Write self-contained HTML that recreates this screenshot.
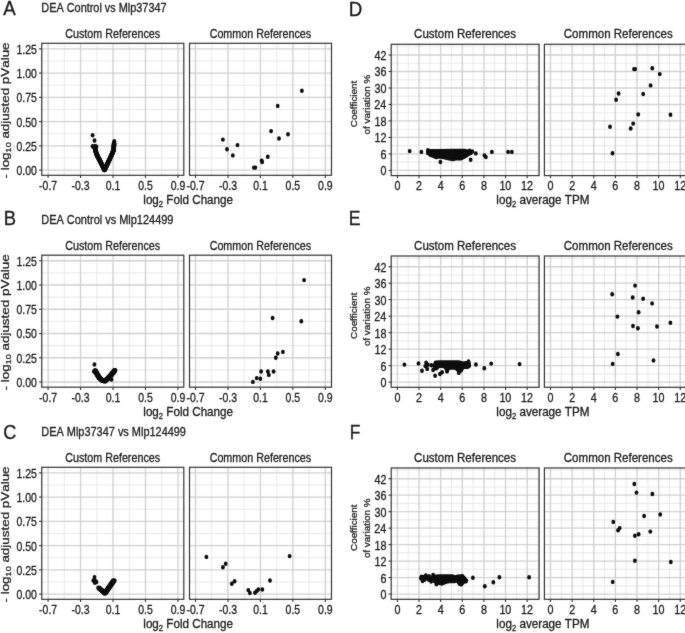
<!DOCTYPE html>
<html><head><meta charset="utf-8"><style>
html,body{margin:0;padding:0;background:#fff;overflow:hidden}
svg text{font-family:"Liberation Sans", sans-serif;font-kerning:none;font-variant-ligatures:none;stroke:#1a1a1a;stroke-width:0.3px;paint-order:stroke}
</style></head><body>
<svg width="685" height="633" viewBox="0 0 685 633" style="display:block;font-kerning:none">
<defs><filter id="bl" x="0" y="0" width="685" height="633" filterUnits="userSpaceOnUse" color-interpolation-filters="sRGB"><feConvolveMatrix order="3" kernelMatrix="1 2 1 2 28 2 1 2 1" divisor="40" edgeMode="duplicate" preserveAlpha="false"/></filter></defs>
<g filter="url(#bl)">
<rect width="685" height="633" fill="#fff"/>
<g>
<line x1="64.33" y1="43.3" x2="64.33" y2="175.3" stroke="#ebebeb" stroke-width="1.1"/>
<line x1="96.79" y1="43.3" x2="96.79" y2="175.3" stroke="#ebebeb" stroke-width="1.1"/>
<line x1="129.25" y1="43.3" x2="129.25" y2="175.3" stroke="#ebebeb" stroke-width="1.1"/>
<line x1="161.71" y1="43.3" x2="161.71" y2="175.3" stroke="#ebebeb" stroke-width="1.1"/>
<line x1="41.75" y1="157.97" x2="183.8" y2="157.97" stroke="#ebebeb" stroke-width="1.1"/>
<line x1="41.75" y1="133.72" x2="183.8" y2="133.72" stroke="#ebebeb" stroke-width="1.1"/>
<line x1="41.75" y1="109.47" x2="183.8" y2="109.47" stroke="#ebebeb" stroke-width="1.1"/>
<line x1="41.75" y1="85.22" x2="183.8" y2="85.22" stroke="#ebebeb" stroke-width="1.1"/>
<line x1="41.75" y1="60.97" x2="183.8" y2="60.97" stroke="#ebebeb" stroke-width="1.1"/>
<line x1="48.1" y1="43.3" x2="48.1" y2="175.3" stroke="#d2d2d2" stroke-width="1.35"/>
<line x1="80.56" y1="43.3" x2="80.56" y2="175.3" stroke="#d2d2d2" stroke-width="1.35"/>
<line x1="113.02" y1="43.3" x2="113.02" y2="175.3" stroke="#d2d2d2" stroke-width="1.35"/>
<line x1="145.48" y1="43.3" x2="145.48" y2="175.3" stroke="#d2d2d2" stroke-width="1.35"/>
<line x1="177.94" y1="43.3" x2="177.94" y2="175.3" stroke="#d2d2d2" stroke-width="1.35"/>
<line x1="41.75" y1="170.1" x2="183.8" y2="170.1" stroke="#d2d2d2" stroke-width="1.35"/>
<line x1="41.75" y1="145.85" x2="183.8" y2="145.85" stroke="#d2d2d2" stroke-width="1.35"/>
<line x1="41.75" y1="121.6" x2="183.8" y2="121.6" stroke="#d2d2d2" stroke-width="1.35"/>
<line x1="41.75" y1="97.35" x2="183.8" y2="97.35" stroke="#d2d2d2" stroke-width="1.35"/>
<line x1="41.75" y1="73.1" x2="183.8" y2="73.1" stroke="#d2d2d2" stroke-width="1.35"/>
<line x1="41.75" y1="48.85" x2="183.8" y2="48.85" stroke="#d2d2d2" stroke-width="1.35"/>
<rect x="41.75" y="43.3" width="142.05" height="132" fill="none" stroke="#333333" stroke-width="1.2"/>
</g>
<line x1="48.1" y1="175.3" x2="48.1" y2="178" stroke="#333333" stroke-width="1.1"/>
<text transform="translate(39.09,189.6) scale(0.8600,1.0000)" fill="#1a1a1a"><tspan font-size="12.2">-0.7</tspan></text>
<line x1="80.56" y1="175.3" x2="80.56" y2="178" stroke="#333333" stroke-width="1.1"/>
<text transform="translate(71.52,189.6) scale(0.8600,1.0000)" fill="#1a1a1a"><tspan font-size="12.2">-0.3</tspan></text>
<line x1="113.02" y1="175.3" x2="113.02" y2="178" stroke="#333333" stroke-width="1.1"/>
<text transform="translate(105.78,189.6) scale(0.8600,1.0000)" fill="#1a1a1a"><tspan font-size="12.2">0.1</tspan></text>
<line x1="145.48" y1="175.3" x2="145.48" y2="178" stroke="#333333" stroke-width="1.1"/>
<text transform="translate(138.2,189.6) scale(0.8600,1.0000)" fill="#1a1a1a"><tspan font-size="12.2">0.5</tspan></text>
<line x1="177.94" y1="175.3" x2="177.94" y2="178" stroke="#333333" stroke-width="1.1"/>
<text transform="translate(170.69,189.6) scale(0.8600,1.0000)" fill="#1a1a1a"><tspan font-size="12.2">0.9</tspan></text>
<text transform="translate(65.19,37.6) scale(0.8670,1.0000)" fill="#1a1a1a"><tspan font-size="12.4">Custom References</tspan></text>
<g>
<line x1="211.73" y1="43.3" x2="211.73" y2="175.3" stroke="#ebebeb" stroke-width="1.1"/>
<line x1="244.19" y1="43.3" x2="244.19" y2="175.3" stroke="#ebebeb" stroke-width="1.1"/>
<line x1="276.65" y1="43.3" x2="276.65" y2="175.3" stroke="#ebebeb" stroke-width="1.1"/>
<line x1="309.11" y1="43.3" x2="309.11" y2="175.3" stroke="#ebebeb" stroke-width="1.1"/>
<line x1="189.5" y1="157.97" x2="331.5" y2="157.97" stroke="#ebebeb" stroke-width="1.1"/>
<line x1="189.5" y1="133.72" x2="331.5" y2="133.72" stroke="#ebebeb" stroke-width="1.1"/>
<line x1="189.5" y1="109.47" x2="331.5" y2="109.47" stroke="#ebebeb" stroke-width="1.1"/>
<line x1="189.5" y1="85.22" x2="331.5" y2="85.22" stroke="#ebebeb" stroke-width="1.1"/>
<line x1="189.5" y1="60.97" x2="331.5" y2="60.97" stroke="#ebebeb" stroke-width="1.1"/>
<line x1="195.5" y1="43.3" x2="195.5" y2="175.3" stroke="#d2d2d2" stroke-width="1.35"/>
<line x1="227.96" y1="43.3" x2="227.96" y2="175.3" stroke="#d2d2d2" stroke-width="1.35"/>
<line x1="260.42" y1="43.3" x2="260.42" y2="175.3" stroke="#d2d2d2" stroke-width="1.35"/>
<line x1="292.88" y1="43.3" x2="292.88" y2="175.3" stroke="#d2d2d2" stroke-width="1.35"/>
<line x1="325.34" y1="43.3" x2="325.34" y2="175.3" stroke="#d2d2d2" stroke-width="1.35"/>
<line x1="189.5" y1="170.1" x2="331.5" y2="170.1" stroke="#d2d2d2" stroke-width="1.35"/>
<line x1="189.5" y1="145.85" x2="331.5" y2="145.85" stroke="#d2d2d2" stroke-width="1.35"/>
<line x1="189.5" y1="121.6" x2="331.5" y2="121.6" stroke="#d2d2d2" stroke-width="1.35"/>
<line x1="189.5" y1="97.35" x2="331.5" y2="97.35" stroke="#d2d2d2" stroke-width="1.35"/>
<line x1="189.5" y1="73.1" x2="331.5" y2="73.1" stroke="#d2d2d2" stroke-width="1.35"/>
<line x1="189.5" y1="48.85" x2="331.5" y2="48.85" stroke="#d2d2d2" stroke-width="1.35"/>
<rect x="189.5" y="43.3" width="142" height="132" fill="none" stroke="#333333" stroke-width="1.2"/>
</g>
<line x1="195.5" y1="175.3" x2="195.5" y2="178" stroke="#333333" stroke-width="1.1"/>
<text transform="translate(186.49,189.6) scale(0.8600,1.0000)" fill="#1a1a1a"><tspan font-size="12.2">-0.7</tspan></text>
<line x1="227.96" y1="175.3" x2="227.96" y2="178" stroke="#333333" stroke-width="1.1"/>
<text transform="translate(218.92,189.6) scale(0.8600,1.0000)" fill="#1a1a1a"><tspan font-size="12.2">-0.3</tspan></text>
<line x1="260.42" y1="175.3" x2="260.42" y2="178" stroke="#333333" stroke-width="1.1"/>
<text transform="translate(253.18,189.6) scale(0.8600,1.0000)" fill="#1a1a1a"><tspan font-size="12.2">0.1</tspan></text>
<line x1="292.88" y1="175.3" x2="292.88" y2="178" stroke="#333333" stroke-width="1.1"/>
<text transform="translate(285.6,189.6) scale(0.8600,1.0000)" fill="#1a1a1a"><tspan font-size="12.2">0.5</tspan></text>
<line x1="325.34" y1="175.3" x2="325.34" y2="178" stroke="#333333" stroke-width="1.1"/>
<text transform="translate(318.09,189.6) scale(0.8600,1.0000)" fill="#1a1a1a"><tspan font-size="12.2">0.9</tspan></text>
<text transform="translate(209.63,37.6) scale(0.8670,1.0000)" fill="#1a1a1a"><tspan font-size="12.4">Common References</tspan></text>
<line x1="39.05" y1="170.1" x2="41.75" y2="170.1" stroke="#333333" stroke-width="1.1"/>
<text transform="translate(16.49,175) scale(0.8600,1.0000)" fill="#1a1a1a"><tspan font-size="12.2">0.00</tspan></text>
<line x1="39.05" y1="145.85" x2="41.75" y2="145.85" stroke="#333333" stroke-width="1.1"/>
<text transform="translate(16.52,150.75) scale(0.8600,1.0000)" fill="#1a1a1a"><tspan font-size="12.2">0.25</tspan></text>
<line x1="39.05" y1="121.6" x2="41.75" y2="121.6" stroke="#333333" stroke-width="1.1"/>
<text transform="translate(16.49,126.5) scale(0.8600,1.0000)" fill="#1a1a1a"><tspan font-size="12.2">0.50</tspan></text>
<line x1="39.05" y1="97.35" x2="41.75" y2="97.35" stroke="#333333" stroke-width="1.1"/>
<text transform="translate(16.52,102.25) scale(0.8600,1.0000)" fill="#1a1a1a"><tspan font-size="12.2">0.75</tspan></text>
<line x1="39.05" y1="73.1" x2="41.75" y2="73.1" stroke="#333333" stroke-width="1.1"/>
<text transform="translate(16.49,78) scale(0.8600,1.0000)" fill="#1a1a1a"><tspan font-size="12.2">1.00</tspan></text>
<line x1="39.05" y1="48.85" x2="41.75" y2="48.85" stroke="#333333" stroke-width="1.1"/>
<text transform="translate(16.52,53.75) scale(0.8600,1.0000)" fill="#1a1a1a"><tspan font-size="12.2">1.25</tspan></text>
<text transform="translate(41.31,12.4) scale(0.8793,1.0000)" fill="#1a1a1a"><tspan font-size="12.4">DEA Control vs Mlp37347</tspan></text>
<text transform="translate(3.36,15.3) scale(0.9530,1.0000)" fill="#1a1a1a"><tspan font-size="19.62">A</tspan></text>
<text transform="translate(143.31,204.2) scale(0.9398,1.0000)" fill="#1a1a1a"><tspan font-size="12.4">log</tspan><tspan font-size="8.2" dy="2.8">2</tspan><tspan font-size="12.4" dy="-2.8"> Fold Change</tspan></text>
<text transform="translate(9.3,178.5) rotate(-90) scale(1.0822,0.8800)" fill="#1a1a1a"><tspan font-size="12.4">- log</tspan><tspan font-size="8.4" dy="1.8">10</tspan><tspan font-size="12.4" dy="-1.8"> adjusted pValue</tspan></text>
<g>
<line x1="64.33" y1="255.2" x2="64.33" y2="387.2" stroke="#ebebeb" stroke-width="1.1"/>
<line x1="96.79" y1="255.2" x2="96.79" y2="387.2" stroke="#ebebeb" stroke-width="1.1"/>
<line x1="129.25" y1="255.2" x2="129.25" y2="387.2" stroke="#ebebeb" stroke-width="1.1"/>
<line x1="161.71" y1="255.2" x2="161.71" y2="387.2" stroke="#ebebeb" stroke-width="1.1"/>
<line x1="41.75" y1="369.88" x2="183.8" y2="369.88" stroke="#ebebeb" stroke-width="1.1"/>
<line x1="41.75" y1="345.62" x2="183.8" y2="345.62" stroke="#ebebeb" stroke-width="1.1"/>
<line x1="41.75" y1="321.38" x2="183.8" y2="321.38" stroke="#ebebeb" stroke-width="1.1"/>
<line x1="41.75" y1="297.12" x2="183.8" y2="297.12" stroke="#ebebeb" stroke-width="1.1"/>
<line x1="41.75" y1="272.88" x2="183.8" y2="272.88" stroke="#ebebeb" stroke-width="1.1"/>
<line x1="48.1" y1="255.2" x2="48.1" y2="387.2" stroke="#d2d2d2" stroke-width="1.35"/>
<line x1="80.56" y1="255.2" x2="80.56" y2="387.2" stroke="#d2d2d2" stroke-width="1.35"/>
<line x1="113.02" y1="255.2" x2="113.02" y2="387.2" stroke="#d2d2d2" stroke-width="1.35"/>
<line x1="145.48" y1="255.2" x2="145.48" y2="387.2" stroke="#d2d2d2" stroke-width="1.35"/>
<line x1="177.94" y1="255.2" x2="177.94" y2="387.2" stroke="#d2d2d2" stroke-width="1.35"/>
<line x1="41.75" y1="382" x2="183.8" y2="382" stroke="#d2d2d2" stroke-width="1.35"/>
<line x1="41.75" y1="357.75" x2="183.8" y2="357.75" stroke="#d2d2d2" stroke-width="1.35"/>
<line x1="41.75" y1="333.5" x2="183.8" y2="333.5" stroke="#d2d2d2" stroke-width="1.35"/>
<line x1="41.75" y1="309.25" x2="183.8" y2="309.25" stroke="#d2d2d2" stroke-width="1.35"/>
<line x1="41.75" y1="285" x2="183.8" y2="285" stroke="#d2d2d2" stroke-width="1.35"/>
<line x1="41.75" y1="260.75" x2="183.8" y2="260.75" stroke="#d2d2d2" stroke-width="1.35"/>
<rect x="41.75" y="255.2" width="142.05" height="132" fill="none" stroke="#333333" stroke-width="1.2"/>
</g>
<line x1="48.1" y1="387.2" x2="48.1" y2="389.9" stroke="#333333" stroke-width="1.1"/>
<text transform="translate(39.09,401.5) scale(0.8600,1.0000)" fill="#1a1a1a"><tspan font-size="12.2">-0.7</tspan></text>
<line x1="80.56" y1="387.2" x2="80.56" y2="389.9" stroke="#333333" stroke-width="1.1"/>
<text transform="translate(71.52,401.5) scale(0.8600,1.0000)" fill="#1a1a1a"><tspan font-size="12.2">-0.3</tspan></text>
<line x1="113.02" y1="387.2" x2="113.02" y2="389.9" stroke="#333333" stroke-width="1.1"/>
<text transform="translate(105.78,401.5) scale(0.8600,1.0000)" fill="#1a1a1a"><tspan font-size="12.2">0.1</tspan></text>
<line x1="145.48" y1="387.2" x2="145.48" y2="389.9" stroke="#333333" stroke-width="1.1"/>
<text transform="translate(138.2,401.5) scale(0.8600,1.0000)" fill="#1a1a1a"><tspan font-size="12.2">0.5</tspan></text>
<line x1="177.94" y1="387.2" x2="177.94" y2="389.9" stroke="#333333" stroke-width="1.1"/>
<text transform="translate(170.69,401.5) scale(0.8600,1.0000)" fill="#1a1a1a"><tspan font-size="12.2">0.9</tspan></text>
<text transform="translate(65.19,249.5) scale(0.8670,1.0000)" fill="#1a1a1a"><tspan font-size="12.4">Custom References</tspan></text>
<g>
<line x1="211.73" y1="255.2" x2="211.73" y2="387.2" stroke="#ebebeb" stroke-width="1.1"/>
<line x1="244.19" y1="255.2" x2="244.19" y2="387.2" stroke="#ebebeb" stroke-width="1.1"/>
<line x1="276.65" y1="255.2" x2="276.65" y2="387.2" stroke="#ebebeb" stroke-width="1.1"/>
<line x1="309.11" y1="255.2" x2="309.11" y2="387.2" stroke="#ebebeb" stroke-width="1.1"/>
<line x1="189.5" y1="369.88" x2="331.5" y2="369.88" stroke="#ebebeb" stroke-width="1.1"/>
<line x1="189.5" y1="345.62" x2="331.5" y2="345.62" stroke="#ebebeb" stroke-width="1.1"/>
<line x1="189.5" y1="321.38" x2="331.5" y2="321.38" stroke="#ebebeb" stroke-width="1.1"/>
<line x1="189.5" y1="297.12" x2="331.5" y2="297.12" stroke="#ebebeb" stroke-width="1.1"/>
<line x1="189.5" y1="272.88" x2="331.5" y2="272.88" stroke="#ebebeb" stroke-width="1.1"/>
<line x1="195.5" y1="255.2" x2="195.5" y2="387.2" stroke="#d2d2d2" stroke-width="1.35"/>
<line x1="227.96" y1="255.2" x2="227.96" y2="387.2" stroke="#d2d2d2" stroke-width="1.35"/>
<line x1="260.42" y1="255.2" x2="260.42" y2="387.2" stroke="#d2d2d2" stroke-width="1.35"/>
<line x1="292.88" y1="255.2" x2="292.88" y2="387.2" stroke="#d2d2d2" stroke-width="1.35"/>
<line x1="325.34" y1="255.2" x2="325.34" y2="387.2" stroke="#d2d2d2" stroke-width="1.35"/>
<line x1="189.5" y1="382" x2="331.5" y2="382" stroke="#d2d2d2" stroke-width="1.35"/>
<line x1="189.5" y1="357.75" x2="331.5" y2="357.75" stroke="#d2d2d2" stroke-width="1.35"/>
<line x1="189.5" y1="333.5" x2="331.5" y2="333.5" stroke="#d2d2d2" stroke-width="1.35"/>
<line x1="189.5" y1="309.25" x2="331.5" y2="309.25" stroke="#d2d2d2" stroke-width="1.35"/>
<line x1="189.5" y1="285" x2="331.5" y2="285" stroke="#d2d2d2" stroke-width="1.35"/>
<line x1="189.5" y1="260.75" x2="331.5" y2="260.75" stroke="#d2d2d2" stroke-width="1.35"/>
<rect x="189.5" y="255.2" width="142" height="132" fill="none" stroke="#333333" stroke-width="1.2"/>
</g>
<line x1="195.5" y1="387.2" x2="195.5" y2="389.9" stroke="#333333" stroke-width="1.1"/>
<text transform="translate(186.49,401.5) scale(0.8600,1.0000)" fill="#1a1a1a"><tspan font-size="12.2">-0.7</tspan></text>
<line x1="227.96" y1="387.2" x2="227.96" y2="389.9" stroke="#333333" stroke-width="1.1"/>
<text transform="translate(218.92,401.5) scale(0.8600,1.0000)" fill="#1a1a1a"><tspan font-size="12.2">-0.3</tspan></text>
<line x1="260.42" y1="387.2" x2="260.42" y2="389.9" stroke="#333333" stroke-width="1.1"/>
<text transform="translate(253.18,401.5) scale(0.8600,1.0000)" fill="#1a1a1a"><tspan font-size="12.2">0.1</tspan></text>
<line x1="292.88" y1="387.2" x2="292.88" y2="389.9" stroke="#333333" stroke-width="1.1"/>
<text transform="translate(285.6,401.5) scale(0.8600,1.0000)" fill="#1a1a1a"><tspan font-size="12.2">0.5</tspan></text>
<line x1="325.34" y1="387.2" x2="325.34" y2="389.9" stroke="#333333" stroke-width="1.1"/>
<text transform="translate(318.09,401.5) scale(0.8600,1.0000)" fill="#1a1a1a"><tspan font-size="12.2">0.9</tspan></text>
<text transform="translate(209.63,249.5) scale(0.8670,1.0000)" fill="#1a1a1a"><tspan font-size="12.4">Common References</tspan></text>
<line x1="39.05" y1="382" x2="41.75" y2="382" stroke="#333333" stroke-width="1.1"/>
<text transform="translate(16.49,386.9) scale(0.8600,1.0000)" fill="#1a1a1a"><tspan font-size="12.2">0.00</tspan></text>
<line x1="39.05" y1="357.75" x2="41.75" y2="357.75" stroke="#333333" stroke-width="1.1"/>
<text transform="translate(16.52,362.65) scale(0.8600,1.0000)" fill="#1a1a1a"><tspan font-size="12.2">0.25</tspan></text>
<line x1="39.05" y1="333.5" x2="41.75" y2="333.5" stroke="#333333" stroke-width="1.1"/>
<text transform="translate(16.49,338.4) scale(0.8600,1.0000)" fill="#1a1a1a"><tspan font-size="12.2">0.50</tspan></text>
<line x1="39.05" y1="309.25" x2="41.75" y2="309.25" stroke="#333333" stroke-width="1.1"/>
<text transform="translate(16.52,314.15) scale(0.8600,1.0000)" fill="#1a1a1a"><tspan font-size="12.2">0.75</tspan></text>
<line x1="39.05" y1="285" x2="41.75" y2="285" stroke="#333333" stroke-width="1.1"/>
<text transform="translate(16.49,289.9) scale(0.8600,1.0000)" fill="#1a1a1a"><tspan font-size="12.2">1.00</tspan></text>
<line x1="39.05" y1="260.75" x2="41.75" y2="260.75" stroke="#333333" stroke-width="1.1"/>
<text transform="translate(16.52,265.65) scale(0.8600,1.0000)" fill="#1a1a1a"><tspan font-size="12.2">1.25</tspan></text>
<text transform="translate(41.3,224.3) scale(0.8847,1.0000)" fill="#1a1a1a"><tspan font-size="12.4">DEA Control vs Mlp124499</tspan></text>
<text transform="translate(3.79,224.7) scale(0.9315,1.0000)" fill="#1a1a1a"><tspan font-size="19.77">B</tspan></text>
<text transform="translate(143.31,416.1) scale(0.9398,1.0000)" fill="#1a1a1a"><tspan font-size="12.4">log</tspan><tspan font-size="8.2" dy="2.8">2</tspan><tspan font-size="12.4" dy="-2.8"> Fold Change</tspan></text>
<text transform="translate(9.3,390.4) rotate(-90) scale(1.0822,0.8800)" fill="#1a1a1a"><tspan font-size="12.4">- log</tspan><tspan font-size="8.4" dy="1.8">10</tspan><tspan font-size="12.4" dy="-1.8"> adjusted pValue</tspan></text>
<g>
<line x1="64.33" y1="467.3" x2="64.33" y2="599.3" stroke="#ebebeb" stroke-width="1.1"/>
<line x1="96.79" y1="467.3" x2="96.79" y2="599.3" stroke="#ebebeb" stroke-width="1.1"/>
<line x1="129.25" y1="467.3" x2="129.25" y2="599.3" stroke="#ebebeb" stroke-width="1.1"/>
<line x1="161.71" y1="467.3" x2="161.71" y2="599.3" stroke="#ebebeb" stroke-width="1.1"/>
<line x1="41.75" y1="581.98" x2="183.8" y2="581.98" stroke="#ebebeb" stroke-width="1.1"/>
<line x1="41.75" y1="557.73" x2="183.8" y2="557.73" stroke="#ebebeb" stroke-width="1.1"/>
<line x1="41.75" y1="533.48" x2="183.8" y2="533.48" stroke="#ebebeb" stroke-width="1.1"/>
<line x1="41.75" y1="509.23" x2="183.8" y2="509.23" stroke="#ebebeb" stroke-width="1.1"/>
<line x1="41.75" y1="484.98" x2="183.8" y2="484.98" stroke="#ebebeb" stroke-width="1.1"/>
<line x1="48.1" y1="467.3" x2="48.1" y2="599.3" stroke="#d2d2d2" stroke-width="1.35"/>
<line x1="80.56" y1="467.3" x2="80.56" y2="599.3" stroke="#d2d2d2" stroke-width="1.35"/>
<line x1="113.02" y1="467.3" x2="113.02" y2="599.3" stroke="#d2d2d2" stroke-width="1.35"/>
<line x1="145.48" y1="467.3" x2="145.48" y2="599.3" stroke="#d2d2d2" stroke-width="1.35"/>
<line x1="177.94" y1="467.3" x2="177.94" y2="599.3" stroke="#d2d2d2" stroke-width="1.35"/>
<line x1="41.75" y1="594.1" x2="183.8" y2="594.1" stroke="#d2d2d2" stroke-width="1.35"/>
<line x1="41.75" y1="569.85" x2="183.8" y2="569.85" stroke="#d2d2d2" stroke-width="1.35"/>
<line x1="41.75" y1="545.6" x2="183.8" y2="545.6" stroke="#d2d2d2" stroke-width="1.35"/>
<line x1="41.75" y1="521.35" x2="183.8" y2="521.35" stroke="#d2d2d2" stroke-width="1.35"/>
<line x1="41.75" y1="497.1" x2="183.8" y2="497.1" stroke="#d2d2d2" stroke-width="1.35"/>
<line x1="41.75" y1="472.85" x2="183.8" y2="472.85" stroke="#d2d2d2" stroke-width="1.35"/>
<rect x="41.75" y="467.3" width="142.05" height="132" fill="none" stroke="#333333" stroke-width="1.2"/>
</g>
<line x1="48.1" y1="599.3" x2="48.1" y2="602" stroke="#333333" stroke-width="1.1"/>
<text transform="translate(39.09,613.6) scale(0.8600,1.0000)" fill="#1a1a1a"><tspan font-size="12.2">-0.7</tspan></text>
<line x1="80.56" y1="599.3" x2="80.56" y2="602" stroke="#333333" stroke-width="1.1"/>
<text transform="translate(71.52,613.6) scale(0.8600,1.0000)" fill="#1a1a1a"><tspan font-size="12.2">-0.3</tspan></text>
<line x1="113.02" y1="599.3" x2="113.02" y2="602" stroke="#333333" stroke-width="1.1"/>
<text transform="translate(105.78,613.6) scale(0.8600,1.0000)" fill="#1a1a1a"><tspan font-size="12.2">0.1</tspan></text>
<line x1="145.48" y1="599.3" x2="145.48" y2="602" stroke="#333333" stroke-width="1.1"/>
<text transform="translate(138.2,613.6) scale(0.8600,1.0000)" fill="#1a1a1a"><tspan font-size="12.2">0.5</tspan></text>
<line x1="177.94" y1="599.3" x2="177.94" y2="602" stroke="#333333" stroke-width="1.1"/>
<text transform="translate(170.69,613.6) scale(0.8600,1.0000)" fill="#1a1a1a"><tspan font-size="12.2">0.9</tspan></text>
<text transform="translate(65.19,461.6) scale(0.8670,1.0000)" fill="#1a1a1a"><tspan font-size="12.4">Custom References</tspan></text>
<g>
<line x1="211.73" y1="467.3" x2="211.73" y2="599.3" stroke="#ebebeb" stroke-width="1.1"/>
<line x1="244.19" y1="467.3" x2="244.19" y2="599.3" stroke="#ebebeb" stroke-width="1.1"/>
<line x1="276.65" y1="467.3" x2="276.65" y2="599.3" stroke="#ebebeb" stroke-width="1.1"/>
<line x1="309.11" y1="467.3" x2="309.11" y2="599.3" stroke="#ebebeb" stroke-width="1.1"/>
<line x1="189.5" y1="581.98" x2="331.5" y2="581.98" stroke="#ebebeb" stroke-width="1.1"/>
<line x1="189.5" y1="557.73" x2="331.5" y2="557.73" stroke="#ebebeb" stroke-width="1.1"/>
<line x1="189.5" y1="533.48" x2="331.5" y2="533.48" stroke="#ebebeb" stroke-width="1.1"/>
<line x1="189.5" y1="509.23" x2="331.5" y2="509.23" stroke="#ebebeb" stroke-width="1.1"/>
<line x1="189.5" y1="484.98" x2="331.5" y2="484.98" stroke="#ebebeb" stroke-width="1.1"/>
<line x1="195.5" y1="467.3" x2="195.5" y2="599.3" stroke="#d2d2d2" stroke-width="1.35"/>
<line x1="227.96" y1="467.3" x2="227.96" y2="599.3" stroke="#d2d2d2" stroke-width="1.35"/>
<line x1="260.42" y1="467.3" x2="260.42" y2="599.3" stroke="#d2d2d2" stroke-width="1.35"/>
<line x1="292.88" y1="467.3" x2="292.88" y2="599.3" stroke="#d2d2d2" stroke-width="1.35"/>
<line x1="325.34" y1="467.3" x2="325.34" y2="599.3" stroke="#d2d2d2" stroke-width="1.35"/>
<line x1="189.5" y1="594.1" x2="331.5" y2="594.1" stroke="#d2d2d2" stroke-width="1.35"/>
<line x1="189.5" y1="569.85" x2="331.5" y2="569.85" stroke="#d2d2d2" stroke-width="1.35"/>
<line x1="189.5" y1="545.6" x2="331.5" y2="545.6" stroke="#d2d2d2" stroke-width="1.35"/>
<line x1="189.5" y1="521.35" x2="331.5" y2="521.35" stroke="#d2d2d2" stroke-width="1.35"/>
<line x1="189.5" y1="497.1" x2="331.5" y2="497.1" stroke="#d2d2d2" stroke-width="1.35"/>
<line x1="189.5" y1="472.85" x2="331.5" y2="472.85" stroke="#d2d2d2" stroke-width="1.35"/>
<rect x="189.5" y="467.3" width="142" height="132" fill="none" stroke="#333333" stroke-width="1.2"/>
</g>
<line x1="195.5" y1="599.3" x2="195.5" y2="602" stroke="#333333" stroke-width="1.1"/>
<text transform="translate(186.49,613.6) scale(0.8600,1.0000)" fill="#1a1a1a"><tspan font-size="12.2">-0.7</tspan></text>
<line x1="227.96" y1="599.3" x2="227.96" y2="602" stroke="#333333" stroke-width="1.1"/>
<text transform="translate(218.92,613.6) scale(0.8600,1.0000)" fill="#1a1a1a"><tspan font-size="12.2">-0.3</tspan></text>
<line x1="260.42" y1="599.3" x2="260.42" y2="602" stroke="#333333" stroke-width="1.1"/>
<text transform="translate(253.18,613.6) scale(0.8600,1.0000)" fill="#1a1a1a"><tspan font-size="12.2">0.1</tspan></text>
<line x1="292.88" y1="599.3" x2="292.88" y2="602" stroke="#333333" stroke-width="1.1"/>
<text transform="translate(285.6,613.6) scale(0.8600,1.0000)" fill="#1a1a1a"><tspan font-size="12.2">0.5</tspan></text>
<line x1="325.34" y1="599.3" x2="325.34" y2="602" stroke="#333333" stroke-width="1.1"/>
<text transform="translate(318.09,613.6) scale(0.8600,1.0000)" fill="#1a1a1a"><tspan font-size="12.2">0.9</tspan></text>
<text transform="translate(209.63,461.6) scale(0.8670,1.0000)" fill="#1a1a1a"><tspan font-size="12.4">Common References</tspan></text>
<line x1="39.05" y1="594.1" x2="41.75" y2="594.1" stroke="#333333" stroke-width="1.1"/>
<text transform="translate(16.49,599) scale(0.8600,1.0000)" fill="#1a1a1a"><tspan font-size="12.2">0.00</tspan></text>
<line x1="39.05" y1="569.85" x2="41.75" y2="569.85" stroke="#333333" stroke-width="1.1"/>
<text transform="translate(16.52,574.75) scale(0.8600,1.0000)" fill="#1a1a1a"><tspan font-size="12.2">0.25</tspan></text>
<line x1="39.05" y1="545.6" x2="41.75" y2="545.6" stroke="#333333" stroke-width="1.1"/>
<text transform="translate(16.49,550.5) scale(0.8600,1.0000)" fill="#1a1a1a"><tspan font-size="12.2">0.50</tspan></text>
<line x1="39.05" y1="521.35" x2="41.75" y2="521.35" stroke="#333333" stroke-width="1.1"/>
<text transform="translate(16.52,526.25) scale(0.8600,1.0000)" fill="#1a1a1a"><tspan font-size="12.2">0.75</tspan></text>
<line x1="39.05" y1="497.1" x2="41.75" y2="497.1" stroke="#333333" stroke-width="1.1"/>
<text transform="translate(16.49,502) scale(0.8600,1.0000)" fill="#1a1a1a"><tspan font-size="12.2">1.00</tspan></text>
<line x1="39.05" y1="472.85" x2="41.75" y2="472.85" stroke="#333333" stroke-width="1.1"/>
<text transform="translate(16.52,477.75) scale(0.8600,1.0000)" fill="#1a1a1a"><tspan font-size="12.2">1.25</tspan></text>
<text transform="translate(41.3,436.4) scale(0.8821,1.0000)" fill="#1a1a1a"><tspan font-size="12.4">DEA Mlp37347 vs Mlp124499</tspan></text>
<text transform="translate(3.28,438.7) scale(0.8992,1.0000)" fill="#1a1a1a"><tspan font-size="20.19">C</tspan></text>
<text transform="translate(143.31,628.2) scale(0.9398,1.0000)" fill="#1a1a1a"><tspan font-size="12.4">log</tspan><tspan font-size="8.2" dy="2.8">2</tspan><tspan font-size="12.4" dy="-2.8"> Fold Change</tspan></text>
<text transform="translate(9.3,602.5) rotate(-90) scale(1.0822,0.8800)" fill="#1a1a1a"><tspan font-size="12.4">- log</tspan><tspan font-size="8.4" dy="1.8">10</tspan><tspan font-size="12.4" dy="-1.8"> adjusted pValue</tspan></text>
<g>
<line x1="408.21" y1="44.3" x2="408.21" y2="175.6" stroke="#ebebeb" stroke-width="1.1"/>
<line x1="429.84" y1="44.3" x2="429.84" y2="175.6" stroke="#ebebeb" stroke-width="1.1"/>
<line x1="451.47" y1="44.3" x2="451.47" y2="175.6" stroke="#ebebeb" stroke-width="1.1"/>
<line x1="473.1" y1="44.3" x2="473.1" y2="175.6" stroke="#ebebeb" stroke-width="1.1"/>
<line x1="494.73" y1="44.3" x2="494.73" y2="175.6" stroke="#ebebeb" stroke-width="1.1"/>
<line x1="516.37" y1="44.3" x2="516.37" y2="175.6" stroke="#ebebeb" stroke-width="1.1"/>
<line x1="538" y1="44.3" x2="538" y2="175.6" stroke="#ebebeb" stroke-width="1.1"/>
<line x1="391.2" y1="162.16" x2="539.1" y2="162.16" stroke="#ebebeb" stroke-width="1.1"/>
<line x1="391.2" y1="145.67" x2="539.1" y2="145.67" stroke="#ebebeb" stroke-width="1.1"/>
<line x1="391.2" y1="129.19" x2="539.1" y2="129.19" stroke="#ebebeb" stroke-width="1.1"/>
<line x1="391.2" y1="112.7" x2="539.1" y2="112.7" stroke="#ebebeb" stroke-width="1.1"/>
<line x1="391.2" y1="96.21" x2="539.1" y2="96.21" stroke="#ebebeb" stroke-width="1.1"/>
<line x1="391.2" y1="79.73" x2="539.1" y2="79.73" stroke="#ebebeb" stroke-width="1.1"/>
<line x1="391.2" y1="63.24" x2="539.1" y2="63.24" stroke="#ebebeb" stroke-width="1.1"/>
<line x1="391.2" y1="46.76" x2="539.1" y2="46.76" stroke="#ebebeb" stroke-width="1.1"/>
<line x1="397.4" y1="44.3" x2="397.4" y2="175.6" stroke="#d2d2d2" stroke-width="1.35"/>
<line x1="419.03" y1="44.3" x2="419.03" y2="175.6" stroke="#d2d2d2" stroke-width="1.35"/>
<line x1="440.66" y1="44.3" x2="440.66" y2="175.6" stroke="#d2d2d2" stroke-width="1.35"/>
<line x1="462.29" y1="44.3" x2="462.29" y2="175.6" stroke="#d2d2d2" stroke-width="1.35"/>
<line x1="483.92" y1="44.3" x2="483.92" y2="175.6" stroke="#d2d2d2" stroke-width="1.35"/>
<line x1="505.55" y1="44.3" x2="505.55" y2="175.6" stroke="#d2d2d2" stroke-width="1.35"/>
<line x1="527.18" y1="44.3" x2="527.18" y2="175.6" stroke="#d2d2d2" stroke-width="1.35"/>
<line x1="391.2" y1="170.4" x2="539.1" y2="170.4" stroke="#d2d2d2" stroke-width="1.35"/>
<line x1="391.2" y1="153.91" x2="539.1" y2="153.91" stroke="#d2d2d2" stroke-width="1.35"/>
<line x1="391.2" y1="137.43" x2="539.1" y2="137.43" stroke="#d2d2d2" stroke-width="1.35"/>
<line x1="391.2" y1="120.94" x2="539.1" y2="120.94" stroke="#d2d2d2" stroke-width="1.35"/>
<line x1="391.2" y1="104.46" x2="539.1" y2="104.46" stroke="#d2d2d2" stroke-width="1.35"/>
<line x1="391.2" y1="87.97" x2="539.1" y2="87.97" stroke="#d2d2d2" stroke-width="1.35"/>
<line x1="391.2" y1="71.49" x2="539.1" y2="71.49" stroke="#d2d2d2" stroke-width="1.35"/>
<line x1="391.2" y1="55" x2="539.1" y2="55" stroke="#d2d2d2" stroke-width="1.35"/>
<rect x="391.2" y="44.3" width="147.9" height="131.3" fill="none" stroke="#333333" stroke-width="1.2"/>
</g>
<line x1="397.4" y1="175.6" x2="397.4" y2="178.3" stroke="#333333" stroke-width="1.1"/>
<text transform="translate(394.41,189.9) scale(0.8800,1.0000)" fill="#1a1a1a"><tspan font-size="12.2">0</tspan></text>
<line x1="419.03" y1="175.6" x2="419.03" y2="178.3" stroke="#333333" stroke-width="1.1"/>
<text transform="translate(416.04,189.9) scale(0.8800,1.0000)" fill="#1a1a1a"><tspan font-size="12.2">2</tspan></text>
<line x1="440.66" y1="175.6" x2="440.66" y2="178.3" stroke="#333333" stroke-width="1.1"/>
<text transform="translate(437.71,189.9) scale(0.8800,1.0000)" fill="#1a1a1a"><tspan font-size="12.2">4</tspan></text>
<line x1="462.29" y1="175.6" x2="462.29" y2="178.3" stroke="#333333" stroke-width="1.1"/>
<text transform="translate(459.27,189.9) scale(0.8800,1.0000)" fill="#1a1a1a"><tspan font-size="12.2">6</tspan></text>
<line x1="483.92" y1="175.6" x2="483.92" y2="178.3" stroke="#333333" stroke-width="1.1"/>
<text transform="translate(480.93,189.9) scale(0.8800,1.0000)" fill="#1a1a1a"><tspan font-size="12.2">8</tspan></text>
<line x1="505.55" y1="175.6" x2="505.55" y2="178.3" stroke="#333333" stroke-width="1.1"/>
<text transform="translate(499.38,189.9) scale(0.8800,1.0000)" fill="#1a1a1a"><tspan font-size="12.2">10</tspan></text>
<line x1="527.18" y1="175.6" x2="527.18" y2="178.3" stroke="#333333" stroke-width="1.1"/>
<text transform="translate(521.07,189.9) scale(0.8800,1.0000)" fill="#1a1a1a"><tspan font-size="12.2">12</tspan></text>
<text transform="translate(414.11,37.8) scale(0.9300,1.0000)" fill="#1a1a1a"><tspan font-size="12.4">Custom References</tspan></text>
<g>
<line x1="561.32" y1="44.3" x2="561.32" y2="175.6" stroke="#ebebeb" stroke-width="1.1"/>
<line x1="582.95" y1="44.3" x2="582.95" y2="175.6" stroke="#ebebeb" stroke-width="1.1"/>
<line x1="604.58" y1="44.3" x2="604.58" y2="175.6" stroke="#ebebeb" stroke-width="1.1"/>
<line x1="626.21" y1="44.3" x2="626.21" y2="175.6" stroke="#ebebeb" stroke-width="1.1"/>
<line x1="647.84" y1="44.3" x2="647.84" y2="175.6" stroke="#ebebeb" stroke-width="1.1"/>
<line x1="669.47" y1="44.3" x2="669.47" y2="175.6" stroke="#ebebeb" stroke-width="1.1"/>
<line x1="691.1" y1="44.3" x2="691.1" y2="175.6" stroke="#ebebeb" stroke-width="1.1"/>
<line x1="544.4" y1="162.16" x2="692.3" y2="162.16" stroke="#ebebeb" stroke-width="1.1"/>
<line x1="544.4" y1="145.67" x2="692.3" y2="145.67" stroke="#ebebeb" stroke-width="1.1"/>
<line x1="544.4" y1="129.19" x2="692.3" y2="129.19" stroke="#ebebeb" stroke-width="1.1"/>
<line x1="544.4" y1="112.7" x2="692.3" y2="112.7" stroke="#ebebeb" stroke-width="1.1"/>
<line x1="544.4" y1="96.21" x2="692.3" y2="96.21" stroke="#ebebeb" stroke-width="1.1"/>
<line x1="544.4" y1="79.73" x2="692.3" y2="79.73" stroke="#ebebeb" stroke-width="1.1"/>
<line x1="544.4" y1="63.24" x2="692.3" y2="63.24" stroke="#ebebeb" stroke-width="1.1"/>
<line x1="544.4" y1="46.76" x2="692.3" y2="46.76" stroke="#ebebeb" stroke-width="1.1"/>
<line x1="550.5" y1="44.3" x2="550.5" y2="175.6" stroke="#d2d2d2" stroke-width="1.35"/>
<line x1="572.13" y1="44.3" x2="572.13" y2="175.6" stroke="#d2d2d2" stroke-width="1.35"/>
<line x1="593.76" y1="44.3" x2="593.76" y2="175.6" stroke="#d2d2d2" stroke-width="1.35"/>
<line x1="615.39" y1="44.3" x2="615.39" y2="175.6" stroke="#d2d2d2" stroke-width="1.35"/>
<line x1="637.02" y1="44.3" x2="637.02" y2="175.6" stroke="#d2d2d2" stroke-width="1.35"/>
<line x1="658.65" y1="44.3" x2="658.65" y2="175.6" stroke="#d2d2d2" stroke-width="1.35"/>
<line x1="680.28" y1="44.3" x2="680.28" y2="175.6" stroke="#d2d2d2" stroke-width="1.35"/>
<line x1="544.4" y1="170.4" x2="692.3" y2="170.4" stroke="#d2d2d2" stroke-width="1.35"/>
<line x1="544.4" y1="153.91" x2="692.3" y2="153.91" stroke="#d2d2d2" stroke-width="1.35"/>
<line x1="544.4" y1="137.43" x2="692.3" y2="137.43" stroke="#d2d2d2" stroke-width="1.35"/>
<line x1="544.4" y1="120.94" x2="692.3" y2="120.94" stroke="#d2d2d2" stroke-width="1.35"/>
<line x1="544.4" y1="104.46" x2="692.3" y2="104.46" stroke="#d2d2d2" stroke-width="1.35"/>
<line x1="544.4" y1="87.97" x2="692.3" y2="87.97" stroke="#d2d2d2" stroke-width="1.35"/>
<line x1="544.4" y1="71.49" x2="692.3" y2="71.49" stroke="#d2d2d2" stroke-width="1.35"/>
<line x1="544.4" y1="55" x2="692.3" y2="55" stroke="#d2d2d2" stroke-width="1.35"/>
<rect x="544.4" y="44.3" width="147.9" height="131.3" fill="none" stroke="#333333" stroke-width="1.2"/>
</g>
<line x1="550.5" y1="175.6" x2="550.5" y2="178.3" stroke="#333333" stroke-width="1.1"/>
<text transform="translate(547.51,189.9) scale(0.8800,1.0000)" fill="#1a1a1a"><tspan font-size="12.2">0</tspan></text>
<line x1="572.13" y1="175.6" x2="572.13" y2="178.3" stroke="#333333" stroke-width="1.1"/>
<text transform="translate(569.14,189.9) scale(0.8800,1.0000)" fill="#1a1a1a"><tspan font-size="12.2">2</tspan></text>
<line x1="593.76" y1="175.6" x2="593.76" y2="178.3" stroke="#333333" stroke-width="1.1"/>
<text transform="translate(590.81,189.9) scale(0.8800,1.0000)" fill="#1a1a1a"><tspan font-size="12.2">4</tspan></text>
<line x1="615.39" y1="175.6" x2="615.39" y2="178.3" stroke="#333333" stroke-width="1.1"/>
<text transform="translate(612.37,189.9) scale(0.8800,1.0000)" fill="#1a1a1a"><tspan font-size="12.2">6</tspan></text>
<line x1="637.02" y1="175.6" x2="637.02" y2="178.3" stroke="#333333" stroke-width="1.1"/>
<text transform="translate(634.03,189.9) scale(0.8800,1.0000)" fill="#1a1a1a"><tspan font-size="12.2">8</tspan></text>
<line x1="658.65" y1="175.6" x2="658.65" y2="178.3" stroke="#333333" stroke-width="1.1"/>
<text transform="translate(652.48,189.9) scale(0.8800,1.0000)" fill="#1a1a1a"><tspan font-size="12.2">10</tspan></text>
<line x1="680.28" y1="175.6" x2="680.28" y2="178.3" stroke="#333333" stroke-width="1.1"/>
<text transform="translate(674.17,189.9) scale(0.8800,1.0000)" fill="#1a1a1a"><tspan font-size="12.2">12</tspan></text>
<text transform="translate(563.79,37.8) scale(0.9300,1.0000)" fill="#1a1a1a"><tspan font-size="12.4">Common References</tspan></text>
<line x1="388.5" y1="170.4" x2="391.2" y2="170.4" stroke="#333333" stroke-width="1.1"/>
<text transform="translate(380.45,175.3) scale(0.8800,1.0000)" fill="#1a1a1a"><tspan font-size="12.2">0</tspan></text>
<line x1="388.5" y1="153.91" x2="391.2" y2="153.91" stroke="#333333" stroke-width="1.1"/>
<text transform="translate(380.5,158.81) scale(0.8800,1.0000)" fill="#1a1a1a"><tspan font-size="12.2">6</tspan></text>
<line x1="388.5" y1="137.43" x2="391.2" y2="137.43" stroke="#333333" stroke-width="1.1"/>
<text transform="translate(374.6,142.33) scale(0.8800,1.0000)" fill="#1a1a1a"><tspan font-size="12.2">12</tspan></text>
<line x1="388.5" y1="120.94" x2="391.2" y2="120.94" stroke="#333333" stroke-width="1.1"/>
<text transform="translate(374.52,125.84) scale(0.8800,1.0000)" fill="#1a1a1a"><tspan font-size="12.2">18</tspan></text>
<line x1="388.5" y1="104.46" x2="391.2" y2="104.46" stroke="#333333" stroke-width="1.1"/>
<text transform="translate(374.37,109.36) scale(0.8800,1.0000)" fill="#1a1a1a"><tspan font-size="12.2">24</tspan></text>
<line x1="388.5" y1="87.97" x2="391.2" y2="87.97" stroke="#333333" stroke-width="1.1"/>
<text transform="translate(374.48,92.87) scale(0.8800,1.0000)" fill="#1a1a1a"><tspan font-size="12.2">30</tspan></text>
<line x1="388.5" y1="71.49" x2="391.2" y2="71.49" stroke="#333333" stroke-width="1.1"/>
<text transform="translate(374.53,76.39) scale(0.8800,1.0000)" fill="#1a1a1a"><tspan font-size="12.2">36</tspan></text>
<line x1="388.5" y1="55" x2="391.2" y2="55" stroke="#333333" stroke-width="1.1"/>
<text transform="translate(374.6,59.9) scale(0.8800,1.0000)" fill="#1a1a1a"><tspan font-size="12.2">42</tspan></text>
<text transform="translate(348.66,15.5) scale(0.9177,1.0000)" fill="#1a1a1a"><tspan font-size="20.42">D</tspan></text>
<text transform="translate(496.31,204.1) scale(0.9420,1.0000)" fill="#1a1a1a"><tspan font-size="12.4">log</tspan><tspan font-size="8.2" dy="2.8">2</tspan><tspan font-size="12.4" dy="-2.8"> average TPM</tspan></text>
<text transform="translate(357,127.2) rotate(-90) scale(0.9815,0.8800)" fill="#1a1a1a"><tspan font-size="10">Coefficient</tspan></text>
<text transform="translate(369.6,134.41) rotate(-90) scale(0.9865,0.8800)" fill="#1a1a1a"><tspan font-size="10">of variation %</tspan></text>
<g>
<line x1="408.21" y1="256" x2="408.21" y2="387.3" stroke="#ebebeb" stroke-width="1.1"/>
<line x1="429.84" y1="256" x2="429.84" y2="387.3" stroke="#ebebeb" stroke-width="1.1"/>
<line x1="451.47" y1="256" x2="451.47" y2="387.3" stroke="#ebebeb" stroke-width="1.1"/>
<line x1="473.1" y1="256" x2="473.1" y2="387.3" stroke="#ebebeb" stroke-width="1.1"/>
<line x1="494.73" y1="256" x2="494.73" y2="387.3" stroke="#ebebeb" stroke-width="1.1"/>
<line x1="516.37" y1="256" x2="516.37" y2="387.3" stroke="#ebebeb" stroke-width="1.1"/>
<line x1="538" y1="256" x2="538" y2="387.3" stroke="#ebebeb" stroke-width="1.1"/>
<line x1="391.2" y1="373.86" x2="539.1" y2="373.86" stroke="#ebebeb" stroke-width="1.1"/>
<line x1="391.2" y1="357.37" x2="539.1" y2="357.37" stroke="#ebebeb" stroke-width="1.1"/>
<line x1="391.2" y1="340.89" x2="539.1" y2="340.89" stroke="#ebebeb" stroke-width="1.1"/>
<line x1="391.2" y1="324.4" x2="539.1" y2="324.4" stroke="#ebebeb" stroke-width="1.1"/>
<line x1="391.2" y1="307.91" x2="539.1" y2="307.91" stroke="#ebebeb" stroke-width="1.1"/>
<line x1="391.2" y1="291.43" x2="539.1" y2="291.43" stroke="#ebebeb" stroke-width="1.1"/>
<line x1="391.2" y1="274.94" x2="539.1" y2="274.94" stroke="#ebebeb" stroke-width="1.1"/>
<line x1="391.2" y1="258.46" x2="539.1" y2="258.46" stroke="#ebebeb" stroke-width="1.1"/>
<line x1="397.4" y1="256" x2="397.4" y2="387.3" stroke="#d2d2d2" stroke-width="1.35"/>
<line x1="419.03" y1="256" x2="419.03" y2="387.3" stroke="#d2d2d2" stroke-width="1.35"/>
<line x1="440.66" y1="256" x2="440.66" y2="387.3" stroke="#d2d2d2" stroke-width="1.35"/>
<line x1="462.29" y1="256" x2="462.29" y2="387.3" stroke="#d2d2d2" stroke-width="1.35"/>
<line x1="483.92" y1="256" x2="483.92" y2="387.3" stroke="#d2d2d2" stroke-width="1.35"/>
<line x1="505.55" y1="256" x2="505.55" y2="387.3" stroke="#d2d2d2" stroke-width="1.35"/>
<line x1="527.18" y1="256" x2="527.18" y2="387.3" stroke="#d2d2d2" stroke-width="1.35"/>
<line x1="391.2" y1="382.1" x2="539.1" y2="382.1" stroke="#d2d2d2" stroke-width="1.35"/>
<line x1="391.2" y1="365.61" x2="539.1" y2="365.61" stroke="#d2d2d2" stroke-width="1.35"/>
<line x1="391.2" y1="349.13" x2="539.1" y2="349.13" stroke="#d2d2d2" stroke-width="1.35"/>
<line x1="391.2" y1="332.64" x2="539.1" y2="332.64" stroke="#d2d2d2" stroke-width="1.35"/>
<line x1="391.2" y1="316.16" x2="539.1" y2="316.16" stroke="#d2d2d2" stroke-width="1.35"/>
<line x1="391.2" y1="299.67" x2="539.1" y2="299.67" stroke="#d2d2d2" stroke-width="1.35"/>
<line x1="391.2" y1="283.19" x2="539.1" y2="283.19" stroke="#d2d2d2" stroke-width="1.35"/>
<line x1="391.2" y1="266.7" x2="539.1" y2="266.7" stroke="#d2d2d2" stroke-width="1.35"/>
<rect x="391.2" y="256" width="147.9" height="131.3" fill="none" stroke="#333333" stroke-width="1.2"/>
</g>
<line x1="397.4" y1="387.3" x2="397.4" y2="390" stroke="#333333" stroke-width="1.1"/>
<text transform="translate(394.41,401.6) scale(0.8800,1.0000)" fill="#1a1a1a"><tspan font-size="12.2">0</tspan></text>
<line x1="419.03" y1="387.3" x2="419.03" y2="390" stroke="#333333" stroke-width="1.1"/>
<text transform="translate(416.04,401.6) scale(0.8800,1.0000)" fill="#1a1a1a"><tspan font-size="12.2">2</tspan></text>
<line x1="440.66" y1="387.3" x2="440.66" y2="390" stroke="#333333" stroke-width="1.1"/>
<text transform="translate(437.71,401.6) scale(0.8800,1.0000)" fill="#1a1a1a"><tspan font-size="12.2">4</tspan></text>
<line x1="462.29" y1="387.3" x2="462.29" y2="390" stroke="#333333" stroke-width="1.1"/>
<text transform="translate(459.27,401.6) scale(0.8800,1.0000)" fill="#1a1a1a"><tspan font-size="12.2">6</tspan></text>
<line x1="483.92" y1="387.3" x2="483.92" y2="390" stroke="#333333" stroke-width="1.1"/>
<text transform="translate(480.93,401.6) scale(0.8800,1.0000)" fill="#1a1a1a"><tspan font-size="12.2">8</tspan></text>
<line x1="505.55" y1="387.3" x2="505.55" y2="390" stroke="#333333" stroke-width="1.1"/>
<text transform="translate(499.38,401.6) scale(0.8800,1.0000)" fill="#1a1a1a"><tspan font-size="12.2">10</tspan></text>
<line x1="527.18" y1="387.3" x2="527.18" y2="390" stroke="#333333" stroke-width="1.1"/>
<text transform="translate(521.07,401.6) scale(0.8800,1.0000)" fill="#1a1a1a"><tspan font-size="12.2">12</tspan></text>
<text transform="translate(414.11,249.5) scale(0.9300,1.0000)" fill="#1a1a1a"><tspan font-size="12.4">Custom References</tspan></text>
<g>
<line x1="561.32" y1="256" x2="561.32" y2="387.3" stroke="#ebebeb" stroke-width="1.1"/>
<line x1="582.95" y1="256" x2="582.95" y2="387.3" stroke="#ebebeb" stroke-width="1.1"/>
<line x1="604.58" y1="256" x2="604.58" y2="387.3" stroke="#ebebeb" stroke-width="1.1"/>
<line x1="626.21" y1="256" x2="626.21" y2="387.3" stroke="#ebebeb" stroke-width="1.1"/>
<line x1="647.84" y1="256" x2="647.84" y2="387.3" stroke="#ebebeb" stroke-width="1.1"/>
<line x1="669.47" y1="256" x2="669.47" y2="387.3" stroke="#ebebeb" stroke-width="1.1"/>
<line x1="691.1" y1="256" x2="691.1" y2="387.3" stroke="#ebebeb" stroke-width="1.1"/>
<line x1="544.4" y1="373.86" x2="692.3" y2="373.86" stroke="#ebebeb" stroke-width="1.1"/>
<line x1="544.4" y1="357.37" x2="692.3" y2="357.37" stroke="#ebebeb" stroke-width="1.1"/>
<line x1="544.4" y1="340.89" x2="692.3" y2="340.89" stroke="#ebebeb" stroke-width="1.1"/>
<line x1="544.4" y1="324.4" x2="692.3" y2="324.4" stroke="#ebebeb" stroke-width="1.1"/>
<line x1="544.4" y1="307.91" x2="692.3" y2="307.91" stroke="#ebebeb" stroke-width="1.1"/>
<line x1="544.4" y1="291.43" x2="692.3" y2="291.43" stroke="#ebebeb" stroke-width="1.1"/>
<line x1="544.4" y1="274.94" x2="692.3" y2="274.94" stroke="#ebebeb" stroke-width="1.1"/>
<line x1="544.4" y1="258.46" x2="692.3" y2="258.46" stroke="#ebebeb" stroke-width="1.1"/>
<line x1="550.5" y1="256" x2="550.5" y2="387.3" stroke="#d2d2d2" stroke-width="1.35"/>
<line x1="572.13" y1="256" x2="572.13" y2="387.3" stroke="#d2d2d2" stroke-width="1.35"/>
<line x1="593.76" y1="256" x2="593.76" y2="387.3" stroke="#d2d2d2" stroke-width="1.35"/>
<line x1="615.39" y1="256" x2="615.39" y2="387.3" stroke="#d2d2d2" stroke-width="1.35"/>
<line x1="637.02" y1="256" x2="637.02" y2="387.3" stroke="#d2d2d2" stroke-width="1.35"/>
<line x1="658.65" y1="256" x2="658.65" y2="387.3" stroke="#d2d2d2" stroke-width="1.35"/>
<line x1="680.28" y1="256" x2="680.28" y2="387.3" stroke="#d2d2d2" stroke-width="1.35"/>
<line x1="544.4" y1="382.1" x2="692.3" y2="382.1" stroke="#d2d2d2" stroke-width="1.35"/>
<line x1="544.4" y1="365.61" x2="692.3" y2="365.61" stroke="#d2d2d2" stroke-width="1.35"/>
<line x1="544.4" y1="349.13" x2="692.3" y2="349.13" stroke="#d2d2d2" stroke-width="1.35"/>
<line x1="544.4" y1="332.64" x2="692.3" y2="332.64" stroke="#d2d2d2" stroke-width="1.35"/>
<line x1="544.4" y1="316.16" x2="692.3" y2="316.16" stroke="#d2d2d2" stroke-width="1.35"/>
<line x1="544.4" y1="299.67" x2="692.3" y2="299.67" stroke="#d2d2d2" stroke-width="1.35"/>
<line x1="544.4" y1="283.19" x2="692.3" y2="283.19" stroke="#d2d2d2" stroke-width="1.35"/>
<line x1="544.4" y1="266.7" x2="692.3" y2="266.7" stroke="#d2d2d2" stroke-width="1.35"/>
<rect x="544.4" y="256" width="147.9" height="131.3" fill="none" stroke="#333333" stroke-width="1.2"/>
</g>
<line x1="550.5" y1="387.3" x2="550.5" y2="390" stroke="#333333" stroke-width="1.1"/>
<text transform="translate(547.51,401.6) scale(0.8800,1.0000)" fill="#1a1a1a"><tspan font-size="12.2">0</tspan></text>
<line x1="572.13" y1="387.3" x2="572.13" y2="390" stroke="#333333" stroke-width="1.1"/>
<text transform="translate(569.14,401.6) scale(0.8800,1.0000)" fill="#1a1a1a"><tspan font-size="12.2">2</tspan></text>
<line x1="593.76" y1="387.3" x2="593.76" y2="390" stroke="#333333" stroke-width="1.1"/>
<text transform="translate(590.81,401.6) scale(0.8800,1.0000)" fill="#1a1a1a"><tspan font-size="12.2">4</tspan></text>
<line x1="615.39" y1="387.3" x2="615.39" y2="390" stroke="#333333" stroke-width="1.1"/>
<text transform="translate(612.37,401.6) scale(0.8800,1.0000)" fill="#1a1a1a"><tspan font-size="12.2">6</tspan></text>
<line x1="637.02" y1="387.3" x2="637.02" y2="390" stroke="#333333" stroke-width="1.1"/>
<text transform="translate(634.03,401.6) scale(0.8800,1.0000)" fill="#1a1a1a"><tspan font-size="12.2">8</tspan></text>
<line x1="658.65" y1="387.3" x2="658.65" y2="390" stroke="#333333" stroke-width="1.1"/>
<text transform="translate(652.48,401.6) scale(0.8800,1.0000)" fill="#1a1a1a"><tspan font-size="12.2">10</tspan></text>
<line x1="680.28" y1="387.3" x2="680.28" y2="390" stroke="#333333" stroke-width="1.1"/>
<text transform="translate(674.17,401.6) scale(0.8800,1.0000)" fill="#1a1a1a"><tspan font-size="12.2">12</tspan></text>
<text transform="translate(563.79,249.5) scale(0.9300,1.0000)" fill="#1a1a1a"><tspan font-size="12.4">Common References</tspan></text>
<line x1="388.5" y1="382.1" x2="391.2" y2="382.1" stroke="#333333" stroke-width="1.1"/>
<text transform="translate(380.45,387) scale(0.8800,1.0000)" fill="#1a1a1a"><tspan font-size="12.2">0</tspan></text>
<line x1="388.5" y1="365.61" x2="391.2" y2="365.61" stroke="#333333" stroke-width="1.1"/>
<text transform="translate(380.5,370.51) scale(0.8800,1.0000)" fill="#1a1a1a"><tspan font-size="12.2">6</tspan></text>
<line x1="388.5" y1="349.13" x2="391.2" y2="349.13" stroke="#333333" stroke-width="1.1"/>
<text transform="translate(374.6,354.03) scale(0.8800,1.0000)" fill="#1a1a1a"><tspan font-size="12.2">12</tspan></text>
<line x1="388.5" y1="332.64" x2="391.2" y2="332.64" stroke="#333333" stroke-width="1.1"/>
<text transform="translate(374.52,337.54) scale(0.8800,1.0000)" fill="#1a1a1a"><tspan font-size="12.2">18</tspan></text>
<line x1="388.5" y1="316.16" x2="391.2" y2="316.16" stroke="#333333" stroke-width="1.1"/>
<text transform="translate(374.37,321.06) scale(0.8800,1.0000)" fill="#1a1a1a"><tspan font-size="12.2">24</tspan></text>
<line x1="388.5" y1="299.67" x2="391.2" y2="299.67" stroke="#333333" stroke-width="1.1"/>
<text transform="translate(374.48,304.57) scale(0.8800,1.0000)" fill="#1a1a1a"><tspan font-size="12.2">30</tspan></text>
<line x1="388.5" y1="283.19" x2="391.2" y2="283.19" stroke="#333333" stroke-width="1.1"/>
<text transform="translate(374.53,288.09) scale(0.8800,1.0000)" fill="#1a1a1a"><tspan font-size="12.2">36</tspan></text>
<line x1="388.5" y1="266.7" x2="391.2" y2="266.7" stroke="#333333" stroke-width="1.1"/>
<text transform="translate(374.6,271.6) scale(0.8800,1.0000)" fill="#1a1a1a"><tspan font-size="12.2">42</tspan></text>
<text transform="translate(348.85,224.7) scale(0.9094,1.0000)" fill="#1a1a1a"><tspan font-size="19.48">E</tspan></text>
<text transform="translate(496.31,415.8) scale(0.9420,1.0000)" fill="#1a1a1a"><tspan font-size="12.4">log</tspan><tspan font-size="8.2" dy="2.8">2</tspan><tspan font-size="12.4" dy="-2.8"> average TPM</tspan></text>
<text transform="translate(357,338.9) rotate(-90) scale(0.9815,0.8800)" fill="#1a1a1a"><tspan font-size="10">Coefficient</tspan></text>
<text transform="translate(369.6,346.11) rotate(-90) scale(0.9865,0.8800)" fill="#1a1a1a"><tspan font-size="10">of variation %</tspan></text>
<g>
<line x1="408.21" y1="468" x2="408.21" y2="599.3" stroke="#ebebeb" stroke-width="1.1"/>
<line x1="429.84" y1="468" x2="429.84" y2="599.3" stroke="#ebebeb" stroke-width="1.1"/>
<line x1="451.47" y1="468" x2="451.47" y2="599.3" stroke="#ebebeb" stroke-width="1.1"/>
<line x1="473.1" y1="468" x2="473.1" y2="599.3" stroke="#ebebeb" stroke-width="1.1"/>
<line x1="494.73" y1="468" x2="494.73" y2="599.3" stroke="#ebebeb" stroke-width="1.1"/>
<line x1="516.37" y1="468" x2="516.37" y2="599.3" stroke="#ebebeb" stroke-width="1.1"/>
<line x1="538" y1="468" x2="538" y2="599.3" stroke="#ebebeb" stroke-width="1.1"/>
<line x1="391.2" y1="585.86" x2="539.1" y2="585.86" stroke="#ebebeb" stroke-width="1.1"/>
<line x1="391.2" y1="569.37" x2="539.1" y2="569.37" stroke="#ebebeb" stroke-width="1.1"/>
<line x1="391.2" y1="552.89" x2="539.1" y2="552.89" stroke="#ebebeb" stroke-width="1.1"/>
<line x1="391.2" y1="536.4" x2="539.1" y2="536.4" stroke="#ebebeb" stroke-width="1.1"/>
<line x1="391.2" y1="519.91" x2="539.1" y2="519.91" stroke="#ebebeb" stroke-width="1.1"/>
<line x1="391.2" y1="503.43" x2="539.1" y2="503.43" stroke="#ebebeb" stroke-width="1.1"/>
<line x1="391.2" y1="486.94" x2="539.1" y2="486.94" stroke="#ebebeb" stroke-width="1.1"/>
<line x1="391.2" y1="470.46" x2="539.1" y2="470.46" stroke="#ebebeb" stroke-width="1.1"/>
<line x1="397.4" y1="468" x2="397.4" y2="599.3" stroke="#d2d2d2" stroke-width="1.35"/>
<line x1="419.03" y1="468" x2="419.03" y2="599.3" stroke="#d2d2d2" stroke-width="1.35"/>
<line x1="440.66" y1="468" x2="440.66" y2="599.3" stroke="#d2d2d2" stroke-width="1.35"/>
<line x1="462.29" y1="468" x2="462.29" y2="599.3" stroke="#d2d2d2" stroke-width="1.35"/>
<line x1="483.92" y1="468" x2="483.92" y2="599.3" stroke="#d2d2d2" stroke-width="1.35"/>
<line x1="505.55" y1="468" x2="505.55" y2="599.3" stroke="#d2d2d2" stroke-width="1.35"/>
<line x1="527.18" y1="468" x2="527.18" y2="599.3" stroke="#d2d2d2" stroke-width="1.35"/>
<line x1="391.2" y1="594.1" x2="539.1" y2="594.1" stroke="#d2d2d2" stroke-width="1.35"/>
<line x1="391.2" y1="577.61" x2="539.1" y2="577.61" stroke="#d2d2d2" stroke-width="1.35"/>
<line x1="391.2" y1="561.13" x2="539.1" y2="561.13" stroke="#d2d2d2" stroke-width="1.35"/>
<line x1="391.2" y1="544.64" x2="539.1" y2="544.64" stroke="#d2d2d2" stroke-width="1.35"/>
<line x1="391.2" y1="528.16" x2="539.1" y2="528.16" stroke="#d2d2d2" stroke-width="1.35"/>
<line x1="391.2" y1="511.67" x2="539.1" y2="511.67" stroke="#d2d2d2" stroke-width="1.35"/>
<line x1="391.2" y1="495.19" x2="539.1" y2="495.19" stroke="#d2d2d2" stroke-width="1.35"/>
<line x1="391.2" y1="478.7" x2="539.1" y2="478.7" stroke="#d2d2d2" stroke-width="1.35"/>
<rect x="391.2" y="468" width="147.9" height="131.3" fill="none" stroke="#333333" stroke-width="1.2"/>
</g>
<line x1="397.4" y1="599.3" x2="397.4" y2="602" stroke="#333333" stroke-width="1.1"/>
<text transform="translate(394.41,613.6) scale(0.8800,1.0000)" fill="#1a1a1a"><tspan font-size="12.2">0</tspan></text>
<line x1="419.03" y1="599.3" x2="419.03" y2="602" stroke="#333333" stroke-width="1.1"/>
<text transform="translate(416.04,613.6) scale(0.8800,1.0000)" fill="#1a1a1a"><tspan font-size="12.2">2</tspan></text>
<line x1="440.66" y1="599.3" x2="440.66" y2="602" stroke="#333333" stroke-width="1.1"/>
<text transform="translate(437.71,613.6) scale(0.8800,1.0000)" fill="#1a1a1a"><tspan font-size="12.2">4</tspan></text>
<line x1="462.29" y1="599.3" x2="462.29" y2="602" stroke="#333333" stroke-width="1.1"/>
<text transform="translate(459.27,613.6) scale(0.8800,1.0000)" fill="#1a1a1a"><tspan font-size="12.2">6</tspan></text>
<line x1="483.92" y1="599.3" x2="483.92" y2="602" stroke="#333333" stroke-width="1.1"/>
<text transform="translate(480.93,613.6) scale(0.8800,1.0000)" fill="#1a1a1a"><tspan font-size="12.2">8</tspan></text>
<line x1="505.55" y1="599.3" x2="505.55" y2="602" stroke="#333333" stroke-width="1.1"/>
<text transform="translate(499.38,613.6) scale(0.8800,1.0000)" fill="#1a1a1a"><tspan font-size="12.2">10</tspan></text>
<line x1="527.18" y1="599.3" x2="527.18" y2="602" stroke="#333333" stroke-width="1.1"/>
<text transform="translate(521.07,613.6) scale(0.8800,1.0000)" fill="#1a1a1a"><tspan font-size="12.2">12</tspan></text>
<text transform="translate(414.11,461.5) scale(0.9300,1.0000)" fill="#1a1a1a"><tspan font-size="12.4">Custom References</tspan></text>
<g>
<line x1="561.32" y1="468" x2="561.32" y2="599.3" stroke="#ebebeb" stroke-width="1.1"/>
<line x1="582.95" y1="468" x2="582.95" y2="599.3" stroke="#ebebeb" stroke-width="1.1"/>
<line x1="604.58" y1="468" x2="604.58" y2="599.3" stroke="#ebebeb" stroke-width="1.1"/>
<line x1="626.21" y1="468" x2="626.21" y2="599.3" stroke="#ebebeb" stroke-width="1.1"/>
<line x1="647.84" y1="468" x2="647.84" y2="599.3" stroke="#ebebeb" stroke-width="1.1"/>
<line x1="669.47" y1="468" x2="669.47" y2="599.3" stroke="#ebebeb" stroke-width="1.1"/>
<line x1="691.1" y1="468" x2="691.1" y2="599.3" stroke="#ebebeb" stroke-width="1.1"/>
<line x1="544.4" y1="585.86" x2="692.3" y2="585.86" stroke="#ebebeb" stroke-width="1.1"/>
<line x1="544.4" y1="569.37" x2="692.3" y2="569.37" stroke="#ebebeb" stroke-width="1.1"/>
<line x1="544.4" y1="552.89" x2="692.3" y2="552.89" stroke="#ebebeb" stroke-width="1.1"/>
<line x1="544.4" y1="536.4" x2="692.3" y2="536.4" stroke="#ebebeb" stroke-width="1.1"/>
<line x1="544.4" y1="519.91" x2="692.3" y2="519.91" stroke="#ebebeb" stroke-width="1.1"/>
<line x1="544.4" y1="503.43" x2="692.3" y2="503.43" stroke="#ebebeb" stroke-width="1.1"/>
<line x1="544.4" y1="486.94" x2="692.3" y2="486.94" stroke="#ebebeb" stroke-width="1.1"/>
<line x1="544.4" y1="470.46" x2="692.3" y2="470.46" stroke="#ebebeb" stroke-width="1.1"/>
<line x1="550.5" y1="468" x2="550.5" y2="599.3" stroke="#d2d2d2" stroke-width="1.35"/>
<line x1="572.13" y1="468" x2="572.13" y2="599.3" stroke="#d2d2d2" stroke-width="1.35"/>
<line x1="593.76" y1="468" x2="593.76" y2="599.3" stroke="#d2d2d2" stroke-width="1.35"/>
<line x1="615.39" y1="468" x2="615.39" y2="599.3" stroke="#d2d2d2" stroke-width="1.35"/>
<line x1="637.02" y1="468" x2="637.02" y2="599.3" stroke="#d2d2d2" stroke-width="1.35"/>
<line x1="658.65" y1="468" x2="658.65" y2="599.3" stroke="#d2d2d2" stroke-width="1.35"/>
<line x1="680.28" y1="468" x2="680.28" y2="599.3" stroke="#d2d2d2" stroke-width="1.35"/>
<line x1="544.4" y1="594.1" x2="692.3" y2="594.1" stroke="#d2d2d2" stroke-width="1.35"/>
<line x1="544.4" y1="577.61" x2="692.3" y2="577.61" stroke="#d2d2d2" stroke-width="1.35"/>
<line x1="544.4" y1="561.13" x2="692.3" y2="561.13" stroke="#d2d2d2" stroke-width="1.35"/>
<line x1="544.4" y1="544.64" x2="692.3" y2="544.64" stroke="#d2d2d2" stroke-width="1.35"/>
<line x1="544.4" y1="528.16" x2="692.3" y2="528.16" stroke="#d2d2d2" stroke-width="1.35"/>
<line x1="544.4" y1="511.67" x2="692.3" y2="511.67" stroke="#d2d2d2" stroke-width="1.35"/>
<line x1="544.4" y1="495.19" x2="692.3" y2="495.19" stroke="#d2d2d2" stroke-width="1.35"/>
<line x1="544.4" y1="478.7" x2="692.3" y2="478.7" stroke="#d2d2d2" stroke-width="1.35"/>
<rect x="544.4" y="468" width="147.9" height="131.3" fill="none" stroke="#333333" stroke-width="1.2"/>
</g>
<line x1="550.5" y1="599.3" x2="550.5" y2="602" stroke="#333333" stroke-width="1.1"/>
<text transform="translate(547.51,613.6) scale(0.8800,1.0000)" fill="#1a1a1a"><tspan font-size="12.2">0</tspan></text>
<line x1="572.13" y1="599.3" x2="572.13" y2="602" stroke="#333333" stroke-width="1.1"/>
<text transform="translate(569.14,613.6) scale(0.8800,1.0000)" fill="#1a1a1a"><tspan font-size="12.2">2</tspan></text>
<line x1="593.76" y1="599.3" x2="593.76" y2="602" stroke="#333333" stroke-width="1.1"/>
<text transform="translate(590.81,613.6) scale(0.8800,1.0000)" fill="#1a1a1a"><tspan font-size="12.2">4</tspan></text>
<line x1="615.39" y1="599.3" x2="615.39" y2="602" stroke="#333333" stroke-width="1.1"/>
<text transform="translate(612.37,613.6) scale(0.8800,1.0000)" fill="#1a1a1a"><tspan font-size="12.2">6</tspan></text>
<line x1="637.02" y1="599.3" x2="637.02" y2="602" stroke="#333333" stroke-width="1.1"/>
<text transform="translate(634.03,613.6) scale(0.8800,1.0000)" fill="#1a1a1a"><tspan font-size="12.2">8</tspan></text>
<line x1="658.65" y1="599.3" x2="658.65" y2="602" stroke="#333333" stroke-width="1.1"/>
<text transform="translate(652.48,613.6) scale(0.8800,1.0000)" fill="#1a1a1a"><tspan font-size="12.2">10</tspan></text>
<line x1="680.28" y1="599.3" x2="680.28" y2="602" stroke="#333333" stroke-width="1.1"/>
<text transform="translate(674.17,613.6) scale(0.8800,1.0000)" fill="#1a1a1a"><tspan font-size="12.2">12</tspan></text>
<text transform="translate(563.79,461.5) scale(0.9300,1.0000)" fill="#1a1a1a"><tspan font-size="12.4">Common References</tspan></text>
<line x1="388.5" y1="594.1" x2="391.2" y2="594.1" stroke="#333333" stroke-width="1.1"/>
<text transform="translate(380.45,599) scale(0.8800,1.0000)" fill="#1a1a1a"><tspan font-size="12.2">0</tspan></text>
<line x1="388.5" y1="577.61" x2="391.2" y2="577.61" stroke="#333333" stroke-width="1.1"/>
<text transform="translate(380.5,582.51) scale(0.8800,1.0000)" fill="#1a1a1a"><tspan font-size="12.2">6</tspan></text>
<line x1="388.5" y1="561.13" x2="391.2" y2="561.13" stroke="#333333" stroke-width="1.1"/>
<text transform="translate(374.6,566.03) scale(0.8800,1.0000)" fill="#1a1a1a"><tspan font-size="12.2">12</tspan></text>
<line x1="388.5" y1="544.64" x2="391.2" y2="544.64" stroke="#333333" stroke-width="1.1"/>
<text transform="translate(374.52,549.54) scale(0.8800,1.0000)" fill="#1a1a1a"><tspan font-size="12.2">18</tspan></text>
<line x1="388.5" y1="528.16" x2="391.2" y2="528.16" stroke="#333333" stroke-width="1.1"/>
<text transform="translate(374.37,533.06) scale(0.8800,1.0000)" fill="#1a1a1a"><tspan font-size="12.2">24</tspan></text>
<line x1="388.5" y1="511.67" x2="391.2" y2="511.67" stroke="#333333" stroke-width="1.1"/>
<text transform="translate(374.48,516.57) scale(0.8800,1.0000)" fill="#1a1a1a"><tspan font-size="12.2">30</tspan></text>
<line x1="388.5" y1="495.19" x2="391.2" y2="495.19" stroke="#333333" stroke-width="1.1"/>
<text transform="translate(374.53,500.09) scale(0.8800,1.0000)" fill="#1a1a1a"><tspan font-size="12.2">36</tspan></text>
<line x1="388.5" y1="478.7" x2="391.2" y2="478.7" stroke="#333333" stroke-width="1.1"/>
<text transform="translate(374.6,483.6) scale(0.8800,1.0000)" fill="#1a1a1a"><tspan font-size="12.2">42</tspan></text>
<text transform="translate(349.77,439.3) scale(0.8546,1.0000)" fill="#1a1a1a"><tspan font-size="20.35">F</tspan></text>
<text transform="translate(496.31,627.8) scale(0.9420,1.0000)" fill="#1a1a1a"><tspan font-size="12.4">log</tspan><tspan font-size="8.2" dy="2.8">2</tspan><tspan font-size="12.4" dy="-2.8"> average TPM</tspan></text>
<text transform="translate(357,550.9) rotate(-90) scale(0.9815,0.8800)" fill="#1a1a1a"><tspan font-size="10">Coefficient</tspan></text>
<text transform="translate(369.6,558.11) rotate(-90) scale(0.9865,0.8800)" fill="#1a1a1a"><tspan font-size="10">of variation %</tspan></text>
<ellipse cx="92.6" cy="135.3" rx="1.9" ry="2.2" fill="#0d0d0d"/>
<ellipse cx="94.5" cy="140.5" rx="1.9" ry="2.2" fill="#0d0d0d"/>
<ellipse cx="92.6" cy="146.2" rx="1.9" ry="2.2" fill="#0d0d0d"/>
<ellipse cx="114.3" cy="141.4" rx="1.9" ry="2.2" fill="#0d0d0d"/>
<ellipse cx="94.2" cy="147" rx="1.9" ry="2.2" fill="#0d0d0d"/>
<ellipse cx="95" cy="147" rx="1.9" ry="2.2" fill="#0d0d0d"/>
<ellipse cx="94.33" cy="147.5" rx="1.9" ry="2.2" fill="#0d0d0d"/>
<ellipse cx="95.13" cy="147.5" rx="1.9" ry="2.2" fill="#0d0d0d"/>
<ellipse cx="94.47" cy="148" rx="1.9" ry="2.2" fill="#0d0d0d"/>
<ellipse cx="95.27" cy="148" rx="1.9" ry="2.2" fill="#0d0d0d"/>
<ellipse cx="94.6" cy="148.5" rx="1.9" ry="2.2" fill="#0d0d0d"/>
<ellipse cx="95.4" cy="148.5" rx="1.9" ry="2.2" fill="#0d0d0d"/>
<ellipse cx="94.73" cy="149" rx="1.9" ry="2.2" fill="#0d0d0d"/>
<ellipse cx="95.53" cy="149" rx="1.9" ry="2.2" fill="#0d0d0d"/>
<ellipse cx="94.87" cy="149.5" rx="1.9" ry="2.2" fill="#0d0d0d"/>
<ellipse cx="95.67" cy="149.5" rx="1.9" ry="2.2" fill="#0d0d0d"/>
<ellipse cx="95" cy="150" rx="1.9" ry="2.2" fill="#0d0d0d"/>
<ellipse cx="95.8" cy="150" rx="1.9" ry="2.2" fill="#0d0d0d"/>
<ellipse cx="95.13" cy="150.5" rx="1.9" ry="2.2" fill="#0d0d0d"/>
<ellipse cx="95.93" cy="150.5" rx="1.9" ry="2.2" fill="#0d0d0d"/>
<ellipse cx="95.27" cy="151" rx="1.9" ry="2.2" fill="#0d0d0d"/>
<ellipse cx="96.07" cy="151" rx="1.9" ry="2.2" fill="#0d0d0d"/>
<ellipse cx="95.4" cy="151.5" rx="1.9" ry="2.2" fill="#0d0d0d"/>
<ellipse cx="96.2" cy="151.5" rx="1.9" ry="2.2" fill="#0d0d0d"/>
<ellipse cx="95.53" cy="152" rx="1.9" ry="2.2" fill="#0d0d0d"/>
<ellipse cx="96.33" cy="152" rx="1.9" ry="2.2" fill="#0d0d0d"/>
<ellipse cx="95.67" cy="152.5" rx="1.9" ry="2.2" fill="#0d0d0d"/>
<ellipse cx="96.47" cy="152.5" rx="1.9" ry="2.2" fill="#0d0d0d"/>
<ellipse cx="95.8" cy="153" rx="1.9" ry="2.2" fill="#0d0d0d"/>
<ellipse cx="96.6" cy="153" rx="1.9" ry="2.2" fill="#0d0d0d"/>
<ellipse cx="95.8" cy="153" rx="1.9" ry="2.2" fill="#0d0d0d"/>
<ellipse cx="96.6" cy="153" rx="1.9" ry="2.2" fill="#0d0d0d"/>
<ellipse cx="96" cy="153.47" rx="1.9" ry="2.2" fill="#0d0d0d"/>
<ellipse cx="96.8" cy="153.47" rx="1.9" ry="2.2" fill="#0d0d0d"/>
<ellipse cx="96.2" cy="153.94" rx="1.9" ry="2.2" fill="#0d0d0d"/>
<ellipse cx="97" cy="153.94" rx="1.9" ry="2.2" fill="#0d0d0d"/>
<ellipse cx="96.4" cy="154.41" rx="1.9" ry="2.2" fill="#0d0d0d"/>
<ellipse cx="97.2" cy="154.41" rx="1.9" ry="2.2" fill="#0d0d0d"/>
<ellipse cx="96.6" cy="154.89" rx="1.9" ry="2.2" fill="#0d0d0d"/>
<ellipse cx="97.4" cy="154.89" rx="1.9" ry="2.2" fill="#0d0d0d"/>
<ellipse cx="96.8" cy="155.36" rx="1.9" ry="2.2" fill="#0d0d0d"/>
<ellipse cx="97.6" cy="155.36" rx="1.9" ry="2.2" fill="#0d0d0d"/>
<ellipse cx="97" cy="155.83" rx="1.9" ry="2.2" fill="#0d0d0d"/>
<ellipse cx="97.8" cy="155.83" rx="1.9" ry="2.2" fill="#0d0d0d"/>
<ellipse cx="97.2" cy="156.3" rx="1.9" ry="2.2" fill="#0d0d0d"/>
<ellipse cx="98" cy="156.3" rx="1.9" ry="2.2" fill="#0d0d0d"/>
<ellipse cx="97.2" cy="156.3" rx="1.9" ry="2.2" fill="#0d0d0d"/>
<ellipse cx="98" cy="156.3" rx="1.9" ry="2.2" fill="#0d0d0d"/>
<ellipse cx="97.45" cy="156.76" rx="1.9" ry="2.2" fill="#0d0d0d"/>
<ellipse cx="98.25" cy="156.76" rx="1.9" ry="2.2" fill="#0d0d0d"/>
<ellipse cx="97.7" cy="157.23" rx="1.9" ry="2.2" fill="#0d0d0d"/>
<ellipse cx="98.5" cy="157.23" rx="1.9" ry="2.2" fill="#0d0d0d"/>
<ellipse cx="97.95" cy="157.69" rx="1.9" ry="2.2" fill="#0d0d0d"/>
<ellipse cx="98.75" cy="157.69" rx="1.9" ry="2.2" fill="#0d0d0d"/>
<ellipse cx="98.2" cy="158.15" rx="1.9" ry="2.2" fill="#0d0d0d"/>
<ellipse cx="99" cy="158.15" rx="1.9" ry="2.2" fill="#0d0d0d"/>
<ellipse cx="98.45" cy="158.61" rx="1.9" ry="2.2" fill="#0d0d0d"/>
<ellipse cx="99.25" cy="158.61" rx="1.9" ry="2.2" fill="#0d0d0d"/>
<ellipse cx="98.7" cy="159.07" rx="1.9" ry="2.2" fill="#0d0d0d"/>
<ellipse cx="99.5" cy="159.07" rx="1.9" ry="2.2" fill="#0d0d0d"/>
<ellipse cx="98.95" cy="159.54" rx="1.9" ry="2.2" fill="#0d0d0d"/>
<ellipse cx="99.75" cy="159.54" rx="1.9" ry="2.2" fill="#0d0d0d"/>
<ellipse cx="99.2" cy="160" rx="1.9" ry="2.2" fill="#0d0d0d"/>
<ellipse cx="100" cy="160" rx="1.9" ry="2.2" fill="#0d0d0d"/>
<ellipse cx="99.2" cy="160" rx="1.9" ry="2.2" fill="#0d0d0d"/>
<ellipse cx="100" cy="160" rx="1.9" ry="2.2" fill="#0d0d0d"/>
<ellipse cx="99.43" cy="160.45" rx="1.9" ry="2.2" fill="#0d0d0d"/>
<ellipse cx="100.23" cy="160.45" rx="1.9" ry="2.2" fill="#0d0d0d"/>
<ellipse cx="99.65" cy="160.91" rx="1.9" ry="2.2" fill="#0d0d0d"/>
<ellipse cx="100.45" cy="160.91" rx="1.9" ry="2.2" fill="#0d0d0d"/>
<ellipse cx="99.88" cy="161.36" rx="1.9" ry="2.2" fill="#0d0d0d"/>
<ellipse cx="100.68" cy="161.36" rx="1.9" ry="2.2" fill="#0d0d0d"/>
<ellipse cx="100.11" cy="161.82" rx="1.9" ry="2.2" fill="#0d0d0d"/>
<ellipse cx="100.91" cy="161.82" rx="1.9" ry="2.2" fill="#0d0d0d"/>
<ellipse cx="100.34" cy="162.27" rx="1.9" ry="2.2" fill="#0d0d0d"/>
<ellipse cx="101.14" cy="162.27" rx="1.9" ry="2.2" fill="#0d0d0d"/>
<ellipse cx="100.56" cy="162.73" rx="1.9" ry="2.2" fill="#0d0d0d"/>
<ellipse cx="101.36" cy="162.73" rx="1.9" ry="2.2" fill="#0d0d0d"/>
<ellipse cx="100.79" cy="163.18" rx="1.9" ry="2.2" fill="#0d0d0d"/>
<ellipse cx="101.59" cy="163.18" rx="1.9" ry="2.2" fill="#0d0d0d"/>
<ellipse cx="101.02" cy="163.64" rx="1.9" ry="2.2" fill="#0d0d0d"/>
<ellipse cx="101.82" cy="163.64" rx="1.9" ry="2.2" fill="#0d0d0d"/>
<ellipse cx="101.25" cy="164.09" rx="1.9" ry="2.2" fill="#0d0d0d"/>
<ellipse cx="102.05" cy="164.09" rx="1.9" ry="2.2" fill="#0d0d0d"/>
<ellipse cx="101.47" cy="164.55" rx="1.9" ry="2.2" fill="#0d0d0d"/>
<ellipse cx="102.27" cy="164.55" rx="1.9" ry="2.2" fill="#0d0d0d"/>
<ellipse cx="101.7" cy="165" rx="1.9" ry="2.2" fill="#0d0d0d"/>
<ellipse cx="102.5" cy="165" rx="1.9" ry="2.2" fill="#0d0d0d"/>
<ellipse cx="101.7" cy="165" rx="1.9" ry="2.2" fill="#0d0d0d"/>
<ellipse cx="102.5" cy="165" rx="1.9" ry="2.2" fill="#0d0d0d"/>
<ellipse cx="101.92" cy="165.45" rx="1.9" ry="2.2" fill="#0d0d0d"/>
<ellipse cx="102.72" cy="165.45" rx="1.9" ry="2.2" fill="#0d0d0d"/>
<ellipse cx="102.14" cy="165.91" rx="1.9" ry="2.2" fill="#0d0d0d"/>
<ellipse cx="102.94" cy="165.91" rx="1.9" ry="2.2" fill="#0d0d0d"/>
<ellipse cx="102.35" cy="166.36" rx="1.9" ry="2.2" fill="#0d0d0d"/>
<ellipse cx="103.15" cy="166.36" rx="1.9" ry="2.2" fill="#0d0d0d"/>
<ellipse cx="102.57" cy="166.82" rx="1.9" ry="2.2" fill="#0d0d0d"/>
<ellipse cx="103.37" cy="166.82" rx="1.9" ry="2.2" fill="#0d0d0d"/>
<ellipse cx="102.79" cy="167.27" rx="1.9" ry="2.2" fill="#0d0d0d"/>
<ellipse cx="103.59" cy="167.27" rx="1.9" ry="2.2" fill="#0d0d0d"/>
<ellipse cx="103.01" cy="167.73" rx="1.9" ry="2.2" fill="#0d0d0d"/>
<ellipse cx="103.81" cy="167.73" rx="1.9" ry="2.2" fill="#0d0d0d"/>
<ellipse cx="103.23" cy="168.18" rx="1.9" ry="2.2" fill="#0d0d0d"/>
<ellipse cx="104.03" cy="168.18" rx="1.9" ry="2.2" fill="#0d0d0d"/>
<ellipse cx="103.45" cy="168.64" rx="1.9" ry="2.2" fill="#0d0d0d"/>
<ellipse cx="104.25" cy="168.64" rx="1.9" ry="2.2" fill="#0d0d0d"/>
<ellipse cx="103.66" cy="169.09" rx="1.9" ry="2.2" fill="#0d0d0d"/>
<ellipse cx="104.46" cy="169.09" rx="1.9" ry="2.2" fill="#0d0d0d"/>
<ellipse cx="103.88" cy="169.55" rx="1.9" ry="2.2" fill="#0d0d0d"/>
<ellipse cx="104.68" cy="169.55" rx="1.9" ry="2.2" fill="#0d0d0d"/>
<ellipse cx="104.1" cy="170" rx="1.9" ry="2.2" fill="#0d0d0d"/>
<ellipse cx="104.9" cy="170" rx="1.9" ry="2.2" fill="#0d0d0d"/>
<ellipse cx="104.1" cy="170" rx="1.9" ry="2.2" fill="#0d0d0d"/>
<ellipse cx="104.9" cy="170" rx="1.9" ry="2.2" fill="#0d0d0d"/>
<ellipse cx="104.32" cy="169.53" rx="1.9" ry="2.2" fill="#0d0d0d"/>
<ellipse cx="105.12" cy="169.53" rx="1.9" ry="2.2" fill="#0d0d0d"/>
<ellipse cx="104.54" cy="169.07" rx="1.9" ry="2.2" fill="#0d0d0d"/>
<ellipse cx="105.34" cy="169.07" rx="1.9" ry="2.2" fill="#0d0d0d"/>
<ellipse cx="104.76" cy="168.6" rx="1.9" ry="2.2" fill="#0d0d0d"/>
<ellipse cx="105.56" cy="168.6" rx="1.9" ry="2.2" fill="#0d0d0d"/>
<ellipse cx="104.98" cy="168.13" rx="1.9" ry="2.2" fill="#0d0d0d"/>
<ellipse cx="105.78" cy="168.13" rx="1.9" ry="2.2" fill="#0d0d0d"/>
<ellipse cx="105.2" cy="167.67" rx="1.9" ry="2.2" fill="#0d0d0d"/>
<ellipse cx="106" cy="167.67" rx="1.9" ry="2.2" fill="#0d0d0d"/>
<ellipse cx="105.42" cy="167.2" rx="1.9" ry="2.2" fill="#0d0d0d"/>
<ellipse cx="106.22" cy="167.2" rx="1.9" ry="2.2" fill="#0d0d0d"/>
<ellipse cx="105.64" cy="166.73" rx="1.9" ry="2.2" fill="#0d0d0d"/>
<ellipse cx="106.44" cy="166.73" rx="1.9" ry="2.2" fill="#0d0d0d"/>
<ellipse cx="105.86" cy="166.27" rx="1.9" ry="2.2" fill="#0d0d0d"/>
<ellipse cx="106.66" cy="166.27" rx="1.9" ry="2.2" fill="#0d0d0d"/>
<ellipse cx="106.08" cy="165.8" rx="1.9" ry="2.2" fill="#0d0d0d"/>
<ellipse cx="106.88" cy="165.8" rx="1.9" ry="2.2" fill="#0d0d0d"/>
<ellipse cx="106.3" cy="165.33" rx="1.9" ry="2.2" fill="#0d0d0d"/>
<ellipse cx="107.1" cy="165.33" rx="1.9" ry="2.2" fill="#0d0d0d"/>
<ellipse cx="106.52" cy="164.87" rx="1.9" ry="2.2" fill="#0d0d0d"/>
<ellipse cx="107.32" cy="164.87" rx="1.9" ry="2.2" fill="#0d0d0d"/>
<ellipse cx="106.74" cy="164.4" rx="1.9" ry="2.2" fill="#0d0d0d"/>
<ellipse cx="107.54" cy="164.4" rx="1.9" ry="2.2" fill="#0d0d0d"/>
<ellipse cx="106.96" cy="163.93" rx="1.9" ry="2.2" fill="#0d0d0d"/>
<ellipse cx="107.76" cy="163.93" rx="1.9" ry="2.2" fill="#0d0d0d"/>
<ellipse cx="107.18" cy="163.47" rx="1.9" ry="2.2" fill="#0d0d0d"/>
<ellipse cx="107.98" cy="163.47" rx="1.9" ry="2.2" fill="#0d0d0d"/>
<ellipse cx="107.4" cy="163" rx="1.9" ry="2.2" fill="#0d0d0d"/>
<ellipse cx="108.2" cy="163" rx="1.9" ry="2.2" fill="#0d0d0d"/>
<ellipse cx="107.4" cy="163" rx="1.9" ry="2.2" fill="#0d0d0d"/>
<ellipse cx="108.2" cy="163" rx="1.9" ry="2.2" fill="#0d0d0d"/>
<ellipse cx="107.63" cy="162.52" rx="1.9" ry="2.2" fill="#0d0d0d"/>
<ellipse cx="108.43" cy="162.52" rx="1.9" ry="2.2" fill="#0d0d0d"/>
<ellipse cx="107.86" cy="162.04" rx="1.9" ry="2.2" fill="#0d0d0d"/>
<ellipse cx="108.66" cy="162.04" rx="1.9" ry="2.2" fill="#0d0d0d"/>
<ellipse cx="108.09" cy="161.56" rx="1.9" ry="2.2" fill="#0d0d0d"/>
<ellipse cx="108.89" cy="161.56" rx="1.9" ry="2.2" fill="#0d0d0d"/>
<ellipse cx="108.31" cy="161.09" rx="1.9" ry="2.2" fill="#0d0d0d"/>
<ellipse cx="109.11" cy="161.09" rx="1.9" ry="2.2" fill="#0d0d0d"/>
<ellipse cx="108.54" cy="160.61" rx="1.9" ry="2.2" fill="#0d0d0d"/>
<ellipse cx="109.34" cy="160.61" rx="1.9" ry="2.2" fill="#0d0d0d"/>
<ellipse cx="108.77" cy="160.13" rx="1.9" ry="2.2" fill="#0d0d0d"/>
<ellipse cx="109.57" cy="160.13" rx="1.9" ry="2.2" fill="#0d0d0d"/>
<ellipse cx="109" cy="159.65" rx="1.9" ry="2.2" fill="#0d0d0d"/>
<ellipse cx="109.8" cy="159.65" rx="1.9" ry="2.2" fill="#0d0d0d"/>
<ellipse cx="109.23" cy="159.17" rx="1.9" ry="2.2" fill="#0d0d0d"/>
<ellipse cx="110.03" cy="159.17" rx="1.9" ry="2.2" fill="#0d0d0d"/>
<ellipse cx="109.46" cy="158.69" rx="1.9" ry="2.2" fill="#0d0d0d"/>
<ellipse cx="110.26" cy="158.69" rx="1.9" ry="2.2" fill="#0d0d0d"/>
<ellipse cx="109.69" cy="158.21" rx="1.9" ry="2.2" fill="#0d0d0d"/>
<ellipse cx="110.49" cy="158.21" rx="1.9" ry="2.2" fill="#0d0d0d"/>
<ellipse cx="109.91" cy="157.74" rx="1.9" ry="2.2" fill="#0d0d0d"/>
<ellipse cx="110.71" cy="157.74" rx="1.9" ry="2.2" fill="#0d0d0d"/>
<ellipse cx="110.14" cy="157.26" rx="1.9" ry="2.2" fill="#0d0d0d"/>
<ellipse cx="110.94" cy="157.26" rx="1.9" ry="2.2" fill="#0d0d0d"/>
<ellipse cx="110.37" cy="156.78" rx="1.9" ry="2.2" fill="#0d0d0d"/>
<ellipse cx="111.17" cy="156.78" rx="1.9" ry="2.2" fill="#0d0d0d"/>
<ellipse cx="110.6" cy="156.3" rx="1.9" ry="2.2" fill="#0d0d0d"/>
<ellipse cx="111.4" cy="156.3" rx="1.9" ry="2.2" fill="#0d0d0d"/>
<ellipse cx="110.6" cy="156.3" rx="1.9" ry="2.2" fill="#0d0d0d"/>
<ellipse cx="111.4" cy="156.3" rx="1.9" ry="2.2" fill="#0d0d0d"/>
<ellipse cx="110.8" cy="155.82" rx="1.9" ry="2.2" fill="#0d0d0d"/>
<ellipse cx="111.6" cy="155.82" rx="1.9" ry="2.2" fill="#0d0d0d"/>
<ellipse cx="111" cy="155.33" rx="1.9" ry="2.2" fill="#0d0d0d"/>
<ellipse cx="111.8" cy="155.33" rx="1.9" ry="2.2" fill="#0d0d0d"/>
<ellipse cx="111.2" cy="154.85" rx="1.9" ry="2.2" fill="#0d0d0d"/>
<ellipse cx="112" cy="154.85" rx="1.9" ry="2.2" fill="#0d0d0d"/>
<ellipse cx="111.4" cy="154.36" rx="1.9" ry="2.2" fill="#0d0d0d"/>
<ellipse cx="112.2" cy="154.36" rx="1.9" ry="2.2" fill="#0d0d0d"/>
<ellipse cx="111.6" cy="153.88" rx="1.9" ry="2.2" fill="#0d0d0d"/>
<ellipse cx="112.4" cy="153.88" rx="1.9" ry="2.2" fill="#0d0d0d"/>
<ellipse cx="111.8" cy="153.39" rx="1.9" ry="2.2" fill="#0d0d0d"/>
<ellipse cx="112.6" cy="153.39" rx="1.9" ry="2.2" fill="#0d0d0d"/>
<ellipse cx="112" cy="152.91" rx="1.9" ry="2.2" fill="#0d0d0d"/>
<ellipse cx="112.8" cy="152.91" rx="1.9" ry="2.2" fill="#0d0d0d"/>
<ellipse cx="112.2" cy="152.42" rx="1.9" ry="2.2" fill="#0d0d0d"/>
<ellipse cx="113" cy="152.42" rx="1.9" ry="2.2" fill="#0d0d0d"/>
<ellipse cx="112.4" cy="151.94" rx="1.9" ry="2.2" fill="#0d0d0d"/>
<ellipse cx="113.2" cy="151.94" rx="1.9" ry="2.2" fill="#0d0d0d"/>
<ellipse cx="112.6" cy="151.45" rx="1.9" ry="2.2" fill="#0d0d0d"/>
<ellipse cx="113.4" cy="151.45" rx="1.9" ry="2.2" fill="#0d0d0d"/>
<ellipse cx="112.8" cy="150.97" rx="1.9" ry="2.2" fill="#0d0d0d"/>
<ellipse cx="113.6" cy="150.97" rx="1.9" ry="2.2" fill="#0d0d0d"/>
<ellipse cx="113" cy="150.48" rx="1.9" ry="2.2" fill="#0d0d0d"/>
<ellipse cx="113.8" cy="150.48" rx="1.9" ry="2.2" fill="#0d0d0d"/>
<ellipse cx="113.2" cy="150" rx="1.9" ry="2.2" fill="#0d0d0d"/>
<ellipse cx="114" cy="150" rx="1.9" ry="2.2" fill="#0d0d0d"/>
<ellipse cx="113.2" cy="150" rx="1.9" ry="2.2" fill="#0d0d0d"/>
<ellipse cx="114" cy="150" rx="1.9" ry="2.2" fill="#0d0d0d"/>
<ellipse cx="113.24" cy="149.5" rx="1.9" ry="2.2" fill="#0d0d0d"/>
<ellipse cx="114.04" cy="149.5" rx="1.9" ry="2.2" fill="#0d0d0d"/>
<ellipse cx="113.28" cy="149" rx="1.9" ry="2.2" fill="#0d0d0d"/>
<ellipse cx="114.08" cy="149" rx="1.9" ry="2.2" fill="#0d0d0d"/>
<ellipse cx="113.32" cy="148.5" rx="1.9" ry="2.2" fill="#0d0d0d"/>
<ellipse cx="114.12" cy="148.5" rx="1.9" ry="2.2" fill="#0d0d0d"/>
<ellipse cx="113.35" cy="148" rx="1.9" ry="2.2" fill="#0d0d0d"/>
<ellipse cx="114.15" cy="148" rx="1.9" ry="2.2" fill="#0d0d0d"/>
<ellipse cx="113.39" cy="147.5" rx="1.9" ry="2.2" fill="#0d0d0d"/>
<ellipse cx="114.19" cy="147.5" rx="1.9" ry="2.2" fill="#0d0d0d"/>
<ellipse cx="113.43" cy="147" rx="1.9" ry="2.2" fill="#0d0d0d"/>
<ellipse cx="114.23" cy="147" rx="1.9" ry="2.2" fill="#0d0d0d"/>
<ellipse cx="113.47" cy="146.5" rx="1.9" ry="2.2" fill="#0d0d0d"/>
<ellipse cx="114.27" cy="146.5" rx="1.9" ry="2.2" fill="#0d0d0d"/>
<ellipse cx="113.51" cy="146" rx="1.9" ry="2.2" fill="#0d0d0d"/>
<ellipse cx="114.31" cy="146" rx="1.9" ry="2.2" fill="#0d0d0d"/>
<ellipse cx="113.55" cy="145.5" rx="1.9" ry="2.2" fill="#0d0d0d"/>
<ellipse cx="114.35" cy="145.5" rx="1.9" ry="2.2" fill="#0d0d0d"/>
<ellipse cx="113.58" cy="145" rx="1.9" ry="2.2" fill="#0d0d0d"/>
<ellipse cx="114.38" cy="145" rx="1.9" ry="2.2" fill="#0d0d0d"/>
<ellipse cx="113.62" cy="144.5" rx="1.9" ry="2.2" fill="#0d0d0d"/>
<ellipse cx="114.42" cy="144.5" rx="1.9" ry="2.2" fill="#0d0d0d"/>
<ellipse cx="113.66" cy="144" rx="1.9" ry="2.2" fill="#0d0d0d"/>
<ellipse cx="114.46" cy="144" rx="1.9" ry="2.2" fill="#0d0d0d"/>
<ellipse cx="113.7" cy="143.5" rx="1.9" ry="2.2" fill="#0d0d0d"/>
<ellipse cx="114.5" cy="143.5" rx="1.9" ry="2.2" fill="#0d0d0d"/>
<ellipse cx="114.3" cy="141.4" rx="1.9" ry="2.2" fill="#0d0d0d"/>
<ellipse cx="96.5" cy="146.7" rx="1.9" ry="2.2" fill="#0d0d0d"/>
<ellipse cx="95.1" cy="146" rx="1.9" ry="2.2" fill="#0d0d0d"/>
<ellipse cx="301.9" cy="90.7" rx="1.9" ry="2.2" fill="#0d0d0d"/>
<ellipse cx="277.7" cy="105.9" rx="1.9" ry="2.2" fill="#0d0d0d"/>
<ellipse cx="271.1" cy="131.1" rx="1.9" ry="2.2" fill="#0d0d0d"/>
<ellipse cx="288" cy="134.3" rx="1.9" ry="2.2" fill="#0d0d0d"/>
<ellipse cx="279" cy="138.5" rx="1.9" ry="2.2" fill="#0d0d0d"/>
<ellipse cx="222.9" cy="139.6" rx="1.9" ry="2.2" fill="#0d0d0d"/>
<ellipse cx="237.5" cy="145.1" rx="1.9" ry="2.2" fill="#0d0d0d"/>
<ellipse cx="227" cy="149.3" rx="1.9" ry="2.2" fill="#0d0d0d"/>
<ellipse cx="232.8" cy="155.4" rx="1.9" ry="2.2" fill="#0d0d0d"/>
<ellipse cx="267.8" cy="156.8" rx="1.9" ry="2.2" fill="#0d0d0d"/>
<ellipse cx="261.7" cy="160.6" rx="1.9" ry="2.2" fill="#0d0d0d"/>
<ellipse cx="262.2" cy="162.1" rx="1.9" ry="2.2" fill="#0d0d0d"/>
<ellipse cx="253.9" cy="167.6" rx="1.9" ry="2.2" fill="#0d0d0d"/>
<ellipse cx="255.3" cy="167.6" rx="1.9" ry="2.2" fill="#0d0d0d"/>
<ellipse cx="94.4" cy="364.5" rx="1.9" ry="2.2" fill="#0d0d0d"/>
<ellipse cx="95.1" cy="370.2" rx="1.9" ry="2.2" fill="#0d0d0d"/>
<ellipse cx="93.9" cy="371.5" rx="1.9" ry="2.2" fill="#0d0d0d"/>
<ellipse cx="94.6" cy="370.8" rx="1.9" ry="2.2" fill="#0d0d0d"/>
<ellipse cx="96" cy="370.8" rx="1.9" ry="2.2" fill="#0d0d0d"/>
<ellipse cx="94.85" cy="371.26" rx="1.9" ry="2.2" fill="#0d0d0d"/>
<ellipse cx="96.25" cy="371.26" rx="1.9" ry="2.2" fill="#0d0d0d"/>
<ellipse cx="95.1" cy="371.73" rx="1.9" ry="2.2" fill="#0d0d0d"/>
<ellipse cx="96.5" cy="371.73" rx="1.9" ry="2.2" fill="#0d0d0d"/>
<ellipse cx="95.35" cy="372.19" rx="1.9" ry="2.2" fill="#0d0d0d"/>
<ellipse cx="96.75" cy="372.19" rx="1.9" ry="2.2" fill="#0d0d0d"/>
<ellipse cx="95.6" cy="372.65" rx="1.9" ry="2.2" fill="#0d0d0d"/>
<ellipse cx="97" cy="372.65" rx="1.9" ry="2.2" fill="#0d0d0d"/>
<ellipse cx="95.85" cy="373.11" rx="1.9" ry="2.2" fill="#0d0d0d"/>
<ellipse cx="97.25" cy="373.11" rx="1.9" ry="2.2" fill="#0d0d0d"/>
<ellipse cx="96.1" cy="373.57" rx="1.9" ry="2.2" fill="#0d0d0d"/>
<ellipse cx="97.5" cy="373.57" rx="1.9" ry="2.2" fill="#0d0d0d"/>
<ellipse cx="96.35" cy="374.04" rx="1.9" ry="2.2" fill="#0d0d0d"/>
<ellipse cx="97.75" cy="374.04" rx="1.9" ry="2.2" fill="#0d0d0d"/>
<ellipse cx="96.6" cy="374.5" rx="1.9" ry="2.2" fill="#0d0d0d"/>
<ellipse cx="98" cy="374.5" rx="1.9" ry="2.2" fill="#0d0d0d"/>
<ellipse cx="96.6" cy="374.5" rx="1.9" ry="2.2" fill="#0d0d0d"/>
<ellipse cx="98" cy="374.5" rx="1.9" ry="2.2" fill="#0d0d0d"/>
<ellipse cx="96.88" cy="374.94" rx="1.9" ry="2.2" fill="#0d0d0d"/>
<ellipse cx="98.28" cy="374.94" rx="1.9" ry="2.2" fill="#0d0d0d"/>
<ellipse cx="97.15" cy="375.38" rx="1.9" ry="2.2" fill="#0d0d0d"/>
<ellipse cx="98.55" cy="375.38" rx="1.9" ry="2.2" fill="#0d0d0d"/>
<ellipse cx="97.42" cy="375.81" rx="1.9" ry="2.2" fill="#0d0d0d"/>
<ellipse cx="98.83" cy="375.81" rx="1.9" ry="2.2" fill="#0d0d0d"/>
<ellipse cx="97.7" cy="376.25" rx="1.9" ry="2.2" fill="#0d0d0d"/>
<ellipse cx="99.1" cy="376.25" rx="1.9" ry="2.2" fill="#0d0d0d"/>
<ellipse cx="97.97" cy="376.69" rx="1.9" ry="2.2" fill="#0d0d0d"/>
<ellipse cx="99.38" cy="376.69" rx="1.9" ry="2.2" fill="#0d0d0d"/>
<ellipse cx="98.25" cy="377.12" rx="1.9" ry="2.2" fill="#0d0d0d"/>
<ellipse cx="99.65" cy="377.12" rx="1.9" ry="2.2" fill="#0d0d0d"/>
<ellipse cx="98.52" cy="377.56" rx="1.9" ry="2.2" fill="#0d0d0d"/>
<ellipse cx="99.92" cy="377.56" rx="1.9" ry="2.2" fill="#0d0d0d"/>
<ellipse cx="98.8" cy="378" rx="1.9" ry="2.2" fill="#0d0d0d"/>
<ellipse cx="100.2" cy="378" rx="1.9" ry="2.2" fill="#0d0d0d"/>
<ellipse cx="98.8" cy="378" rx="1.9" ry="2.2" fill="#0d0d0d"/>
<ellipse cx="100.2" cy="378" rx="1.9" ry="2.2" fill="#0d0d0d"/>
<ellipse cx="99.23" cy="378.37" rx="1.9" ry="2.2" fill="#0d0d0d"/>
<ellipse cx="100.63" cy="378.37" rx="1.9" ry="2.2" fill="#0d0d0d"/>
<ellipse cx="99.66" cy="378.74" rx="1.9" ry="2.2" fill="#0d0d0d"/>
<ellipse cx="101.06" cy="378.74" rx="1.9" ry="2.2" fill="#0d0d0d"/>
<ellipse cx="100.09" cy="379.11" rx="1.9" ry="2.2" fill="#0d0d0d"/>
<ellipse cx="101.49" cy="379.11" rx="1.9" ry="2.2" fill="#0d0d0d"/>
<ellipse cx="100.51" cy="379.49" rx="1.9" ry="2.2" fill="#0d0d0d"/>
<ellipse cx="101.91" cy="379.49" rx="1.9" ry="2.2" fill="#0d0d0d"/>
<ellipse cx="100.94" cy="379.86" rx="1.9" ry="2.2" fill="#0d0d0d"/>
<ellipse cx="102.34" cy="379.86" rx="1.9" ry="2.2" fill="#0d0d0d"/>
<ellipse cx="101.37" cy="380.23" rx="1.9" ry="2.2" fill="#0d0d0d"/>
<ellipse cx="102.77" cy="380.23" rx="1.9" ry="2.2" fill="#0d0d0d"/>
<ellipse cx="101.8" cy="380.6" rx="1.9" ry="2.2" fill="#0d0d0d"/>
<ellipse cx="103.2" cy="380.6" rx="1.9" ry="2.2" fill="#0d0d0d"/>
<ellipse cx="101.8" cy="380.6" rx="1.9" ry="2.2" fill="#0d0d0d"/>
<ellipse cx="103.2" cy="380.6" rx="1.9" ry="2.2" fill="#0d0d0d"/>
<ellipse cx="102.38" cy="380.75" rx="1.9" ry="2.2" fill="#0d0d0d"/>
<ellipse cx="103.78" cy="380.75" rx="1.9" ry="2.2" fill="#0d0d0d"/>
<ellipse cx="102.95" cy="380.9" rx="1.9" ry="2.2" fill="#0d0d0d"/>
<ellipse cx="104.35" cy="380.9" rx="1.9" ry="2.2" fill="#0d0d0d"/>
<ellipse cx="103.52" cy="381.05" rx="1.9" ry="2.2" fill="#0d0d0d"/>
<ellipse cx="104.92" cy="381.05" rx="1.9" ry="2.2" fill="#0d0d0d"/>
<ellipse cx="104.1" cy="381.2" rx="1.9" ry="2.2" fill="#0d0d0d"/>
<ellipse cx="105.5" cy="381.2" rx="1.9" ry="2.2" fill="#0d0d0d"/>
<ellipse cx="104.1" cy="381.2" rx="1.9" ry="2.2" fill="#0d0d0d"/>
<ellipse cx="105.5" cy="381.2" rx="1.9" ry="2.2" fill="#0d0d0d"/>
<ellipse cx="104.5" cy="380.84" rx="1.9" ry="2.2" fill="#0d0d0d"/>
<ellipse cx="105.9" cy="380.84" rx="1.9" ry="2.2" fill="#0d0d0d"/>
<ellipse cx="104.9" cy="380.48" rx="1.9" ry="2.2" fill="#0d0d0d"/>
<ellipse cx="106.3" cy="380.48" rx="1.9" ry="2.2" fill="#0d0d0d"/>
<ellipse cx="105.3" cy="380.11" rx="1.9" ry="2.2" fill="#0d0d0d"/>
<ellipse cx="106.7" cy="380.11" rx="1.9" ry="2.2" fill="#0d0d0d"/>
<ellipse cx="105.7" cy="379.75" rx="1.9" ry="2.2" fill="#0d0d0d"/>
<ellipse cx="107.1" cy="379.75" rx="1.9" ry="2.2" fill="#0d0d0d"/>
<ellipse cx="106.1" cy="379.39" rx="1.9" ry="2.2" fill="#0d0d0d"/>
<ellipse cx="107.5" cy="379.39" rx="1.9" ry="2.2" fill="#0d0d0d"/>
<ellipse cx="106.5" cy="379.02" rx="1.9" ry="2.2" fill="#0d0d0d"/>
<ellipse cx="107.9" cy="379.02" rx="1.9" ry="2.2" fill="#0d0d0d"/>
<ellipse cx="106.9" cy="378.66" rx="1.9" ry="2.2" fill="#0d0d0d"/>
<ellipse cx="108.3" cy="378.66" rx="1.9" ry="2.2" fill="#0d0d0d"/>
<ellipse cx="107.3" cy="378.3" rx="1.9" ry="2.2" fill="#0d0d0d"/>
<ellipse cx="108.7" cy="378.3" rx="1.9" ry="2.2" fill="#0d0d0d"/>
<ellipse cx="107.3" cy="378.3" rx="1.9" ry="2.2" fill="#0d0d0d"/>
<ellipse cx="108.7" cy="378.3" rx="1.9" ry="2.2" fill="#0d0d0d"/>
<ellipse cx="107.65" cy="377.92" rx="1.9" ry="2.2" fill="#0d0d0d"/>
<ellipse cx="109.05" cy="377.92" rx="1.9" ry="2.2" fill="#0d0d0d"/>
<ellipse cx="108" cy="377.54" rx="1.9" ry="2.2" fill="#0d0d0d"/>
<ellipse cx="109.4" cy="377.54" rx="1.9" ry="2.2" fill="#0d0d0d"/>
<ellipse cx="108.35" cy="377.16" rx="1.9" ry="2.2" fill="#0d0d0d"/>
<ellipse cx="109.75" cy="377.16" rx="1.9" ry="2.2" fill="#0d0d0d"/>
<ellipse cx="108.7" cy="376.78" rx="1.9" ry="2.2" fill="#0d0d0d"/>
<ellipse cx="110.1" cy="376.78" rx="1.9" ry="2.2" fill="#0d0d0d"/>
<ellipse cx="109.05" cy="376.4" rx="1.9" ry="2.2" fill="#0d0d0d"/>
<ellipse cx="110.45" cy="376.4" rx="1.9" ry="2.2" fill="#0d0d0d"/>
<ellipse cx="109.4" cy="376.02" rx="1.9" ry="2.2" fill="#0d0d0d"/>
<ellipse cx="110.8" cy="376.02" rx="1.9" ry="2.2" fill="#0d0d0d"/>
<ellipse cx="109.75" cy="375.64" rx="1.9" ry="2.2" fill="#0d0d0d"/>
<ellipse cx="111.15" cy="375.64" rx="1.9" ry="2.2" fill="#0d0d0d"/>
<ellipse cx="110.1" cy="375.26" rx="1.9" ry="2.2" fill="#0d0d0d"/>
<ellipse cx="111.5" cy="375.26" rx="1.9" ry="2.2" fill="#0d0d0d"/>
<ellipse cx="110.45" cy="374.88" rx="1.9" ry="2.2" fill="#0d0d0d"/>
<ellipse cx="111.85" cy="374.88" rx="1.9" ry="2.2" fill="#0d0d0d"/>
<ellipse cx="110.8" cy="374.5" rx="1.9" ry="2.2" fill="#0d0d0d"/>
<ellipse cx="112.2" cy="374.5" rx="1.9" ry="2.2" fill="#0d0d0d"/>
<ellipse cx="110.8" cy="374.5" rx="1.9" ry="2.2" fill="#0d0d0d"/>
<ellipse cx="112.2" cy="374.5" rx="1.9" ry="2.2" fill="#0d0d0d"/>
<ellipse cx="111.13" cy="374.08" rx="1.9" ry="2.2" fill="#0d0d0d"/>
<ellipse cx="112.53" cy="374.08" rx="1.9" ry="2.2" fill="#0d0d0d"/>
<ellipse cx="111.46" cy="373.66" rx="1.9" ry="2.2" fill="#0d0d0d"/>
<ellipse cx="112.86" cy="373.66" rx="1.9" ry="2.2" fill="#0d0d0d"/>
<ellipse cx="111.79" cy="373.24" rx="1.9" ry="2.2" fill="#0d0d0d"/>
<ellipse cx="113.19" cy="373.24" rx="1.9" ry="2.2" fill="#0d0d0d"/>
<ellipse cx="112.12" cy="372.82" rx="1.9" ry="2.2" fill="#0d0d0d"/>
<ellipse cx="113.52" cy="372.82" rx="1.9" ry="2.2" fill="#0d0d0d"/>
<ellipse cx="112.45" cy="372.4" rx="1.9" ry="2.2" fill="#0d0d0d"/>
<ellipse cx="113.85" cy="372.4" rx="1.9" ry="2.2" fill="#0d0d0d"/>
<ellipse cx="112.78" cy="371.98" rx="1.9" ry="2.2" fill="#0d0d0d"/>
<ellipse cx="114.18" cy="371.98" rx="1.9" ry="2.2" fill="#0d0d0d"/>
<ellipse cx="113.11" cy="371.56" rx="1.9" ry="2.2" fill="#0d0d0d"/>
<ellipse cx="114.51" cy="371.56" rx="1.9" ry="2.2" fill="#0d0d0d"/>
<ellipse cx="113.44" cy="371.14" rx="1.9" ry="2.2" fill="#0d0d0d"/>
<ellipse cx="114.84" cy="371.14" rx="1.9" ry="2.2" fill="#0d0d0d"/>
<ellipse cx="113.77" cy="370.72" rx="1.9" ry="2.2" fill="#0d0d0d"/>
<ellipse cx="115.17" cy="370.72" rx="1.9" ry="2.2" fill="#0d0d0d"/>
<ellipse cx="114.1" cy="370.3" rx="1.9" ry="2.2" fill="#0d0d0d"/>
<ellipse cx="115.5" cy="370.3" rx="1.9" ry="2.2" fill="#0d0d0d"/>
<ellipse cx="111.5" cy="379.6" rx="1.9" ry="2.2" fill="#0d0d0d"/>
<ellipse cx="110.5" cy="377.5" rx="1.9" ry="2.2" fill="#0d0d0d"/>
<ellipse cx="304.1" cy="280.1" rx="1.9" ry="2.2" fill="#0d0d0d"/>
<ellipse cx="272.6" cy="318" rx="1.9" ry="2.2" fill="#0d0d0d"/>
<ellipse cx="301.3" cy="321.2" rx="1.9" ry="2.2" fill="#0d0d0d"/>
<ellipse cx="282.9" cy="351.9" rx="1.9" ry="2.2" fill="#0d0d0d"/>
<ellipse cx="277.7" cy="353.5" rx="1.9" ry="2.2" fill="#0d0d0d"/>
<ellipse cx="275.8" cy="357.8" rx="1.9" ry="2.2" fill="#0d0d0d"/>
<ellipse cx="261.1" cy="371.5" rx="1.9" ry="2.2" fill="#0d0d0d"/>
<ellipse cx="267.9" cy="371.5" rx="1.9" ry="2.2" fill="#0d0d0d"/>
<ellipse cx="273.6" cy="371.5" rx="1.9" ry="2.2" fill="#0d0d0d"/>
<ellipse cx="268.8" cy="374.9" rx="1.9" ry="2.2" fill="#0d0d0d"/>
<ellipse cx="256.7" cy="378.1" rx="1.9" ry="2.2" fill="#0d0d0d"/>
<ellipse cx="260.3" cy="378.7" rx="1.9" ry="2.2" fill="#0d0d0d"/>
<ellipse cx="252.9" cy="381.9" rx="1.9" ry="2.2" fill="#0d0d0d"/>
<ellipse cx="94.5" cy="577.1" rx="1.9" ry="2.2" fill="#0d0d0d"/>
<ellipse cx="93.3" cy="580.5" rx="1.9" ry="2.2" fill="#0d0d0d"/>
<ellipse cx="96.5" cy="582" rx="1.9" ry="2.2" fill="#0d0d0d"/>
<ellipse cx="94.8" cy="582.7" rx="1.9" ry="2.2" fill="#0d0d0d"/>
<ellipse cx="95" cy="580.5" rx="1.9" ry="2.2" fill="#0d0d0d"/>
<ellipse cx="98.2" cy="587.8" rx="1.9" ry="2.2" fill="#0d0d0d"/>
<ellipse cx="99.4" cy="587.8" rx="1.9" ry="2.2" fill="#0d0d0d"/>
<ellipse cx="98.67" cy="588.22" rx="1.9" ry="2.2" fill="#0d0d0d"/>
<ellipse cx="99.87" cy="588.22" rx="1.9" ry="2.2" fill="#0d0d0d"/>
<ellipse cx="99.14" cy="588.63" rx="1.9" ry="2.2" fill="#0d0d0d"/>
<ellipse cx="100.34" cy="588.63" rx="1.9" ry="2.2" fill="#0d0d0d"/>
<ellipse cx="99.61" cy="589.05" rx="1.9" ry="2.2" fill="#0d0d0d"/>
<ellipse cx="100.81" cy="589.05" rx="1.9" ry="2.2" fill="#0d0d0d"/>
<ellipse cx="100.08" cy="589.46" rx="1.9" ry="2.2" fill="#0d0d0d"/>
<ellipse cx="101.28" cy="589.46" rx="1.9" ry="2.2" fill="#0d0d0d"/>
<ellipse cx="100.55" cy="589.88" rx="1.9" ry="2.2" fill="#0d0d0d"/>
<ellipse cx="101.75" cy="589.88" rx="1.9" ry="2.2" fill="#0d0d0d"/>
<ellipse cx="101.02" cy="590.29" rx="1.9" ry="2.2" fill="#0d0d0d"/>
<ellipse cx="102.22" cy="590.29" rx="1.9" ry="2.2" fill="#0d0d0d"/>
<ellipse cx="101.48" cy="590.71" rx="1.9" ry="2.2" fill="#0d0d0d"/>
<ellipse cx="102.68" cy="590.71" rx="1.9" ry="2.2" fill="#0d0d0d"/>
<ellipse cx="101.95" cy="591.12" rx="1.9" ry="2.2" fill="#0d0d0d"/>
<ellipse cx="103.15" cy="591.12" rx="1.9" ry="2.2" fill="#0d0d0d"/>
<ellipse cx="102.42" cy="591.54" rx="1.9" ry="2.2" fill="#0d0d0d"/>
<ellipse cx="103.62" cy="591.54" rx="1.9" ry="2.2" fill="#0d0d0d"/>
<ellipse cx="102.89" cy="591.95" rx="1.9" ry="2.2" fill="#0d0d0d"/>
<ellipse cx="104.09" cy="591.95" rx="1.9" ry="2.2" fill="#0d0d0d"/>
<ellipse cx="103.36" cy="592.37" rx="1.9" ry="2.2" fill="#0d0d0d"/>
<ellipse cx="104.56" cy="592.37" rx="1.9" ry="2.2" fill="#0d0d0d"/>
<ellipse cx="103.83" cy="592.78" rx="1.9" ry="2.2" fill="#0d0d0d"/>
<ellipse cx="105.03" cy="592.78" rx="1.9" ry="2.2" fill="#0d0d0d"/>
<ellipse cx="104.3" cy="593.2" rx="1.9" ry="2.2" fill="#0d0d0d"/>
<ellipse cx="105.5" cy="593.2" rx="1.9" ry="2.2" fill="#0d0d0d"/>
<ellipse cx="104.1" cy="593.2" rx="1.9" ry="2.2" fill="#0d0d0d"/>
<ellipse cx="105.7" cy="593.2" rx="1.9" ry="2.2" fill="#0d0d0d"/>
<ellipse cx="104.46" cy="592.69" rx="1.9" ry="2.2" fill="#0d0d0d"/>
<ellipse cx="106.06" cy="592.69" rx="1.9" ry="2.2" fill="#0d0d0d"/>
<ellipse cx="104.82" cy="592.18" rx="1.9" ry="2.2" fill="#0d0d0d"/>
<ellipse cx="106.42" cy="592.18" rx="1.9" ry="2.2" fill="#0d0d0d"/>
<ellipse cx="105.18" cy="591.68" rx="1.9" ry="2.2" fill="#0d0d0d"/>
<ellipse cx="106.78" cy="591.68" rx="1.9" ry="2.2" fill="#0d0d0d"/>
<ellipse cx="105.54" cy="591.17" rx="1.9" ry="2.2" fill="#0d0d0d"/>
<ellipse cx="107.14" cy="591.17" rx="1.9" ry="2.2" fill="#0d0d0d"/>
<ellipse cx="105.9" cy="590.66" rx="1.9" ry="2.2" fill="#0d0d0d"/>
<ellipse cx="107.5" cy="590.66" rx="1.9" ry="2.2" fill="#0d0d0d"/>
<ellipse cx="106.26" cy="590.15" rx="1.9" ry="2.2" fill="#0d0d0d"/>
<ellipse cx="107.86" cy="590.15" rx="1.9" ry="2.2" fill="#0d0d0d"/>
<ellipse cx="106.62" cy="589.64" rx="1.9" ry="2.2" fill="#0d0d0d"/>
<ellipse cx="108.22" cy="589.64" rx="1.9" ry="2.2" fill="#0d0d0d"/>
<ellipse cx="106.98" cy="589.14" rx="1.9" ry="2.2" fill="#0d0d0d"/>
<ellipse cx="108.58" cy="589.14" rx="1.9" ry="2.2" fill="#0d0d0d"/>
<ellipse cx="107.34" cy="588.63" rx="1.9" ry="2.2" fill="#0d0d0d"/>
<ellipse cx="108.94" cy="588.63" rx="1.9" ry="2.2" fill="#0d0d0d"/>
<ellipse cx="107.7" cy="588.12" rx="1.9" ry="2.2" fill="#0d0d0d"/>
<ellipse cx="109.3" cy="588.12" rx="1.9" ry="2.2" fill="#0d0d0d"/>
<ellipse cx="108.06" cy="587.61" rx="1.9" ry="2.2" fill="#0d0d0d"/>
<ellipse cx="109.66" cy="587.61" rx="1.9" ry="2.2" fill="#0d0d0d"/>
<ellipse cx="108.42" cy="587.1" rx="1.9" ry="2.2" fill="#0d0d0d"/>
<ellipse cx="110.02" cy="587.1" rx="1.9" ry="2.2" fill="#0d0d0d"/>
<ellipse cx="108.78" cy="586.6" rx="1.9" ry="2.2" fill="#0d0d0d"/>
<ellipse cx="110.38" cy="586.6" rx="1.9" ry="2.2" fill="#0d0d0d"/>
<ellipse cx="109.14" cy="586.09" rx="1.9" ry="2.2" fill="#0d0d0d"/>
<ellipse cx="110.74" cy="586.09" rx="1.9" ry="2.2" fill="#0d0d0d"/>
<ellipse cx="109.5" cy="585.58" rx="1.9" ry="2.2" fill="#0d0d0d"/>
<ellipse cx="111.1" cy="585.58" rx="1.9" ry="2.2" fill="#0d0d0d"/>
<ellipse cx="109.86" cy="585.07" rx="1.9" ry="2.2" fill="#0d0d0d"/>
<ellipse cx="111.46" cy="585.07" rx="1.9" ry="2.2" fill="#0d0d0d"/>
<ellipse cx="110.22" cy="584.56" rx="1.9" ry="2.2" fill="#0d0d0d"/>
<ellipse cx="111.82" cy="584.56" rx="1.9" ry="2.2" fill="#0d0d0d"/>
<ellipse cx="110.58" cy="584.06" rx="1.9" ry="2.2" fill="#0d0d0d"/>
<ellipse cx="112.18" cy="584.06" rx="1.9" ry="2.2" fill="#0d0d0d"/>
<ellipse cx="110.94" cy="583.55" rx="1.9" ry="2.2" fill="#0d0d0d"/>
<ellipse cx="112.54" cy="583.55" rx="1.9" ry="2.2" fill="#0d0d0d"/>
<ellipse cx="111.3" cy="583.04" rx="1.9" ry="2.2" fill="#0d0d0d"/>
<ellipse cx="112.9" cy="583.04" rx="1.9" ry="2.2" fill="#0d0d0d"/>
<ellipse cx="111.66" cy="582.53" rx="1.9" ry="2.2" fill="#0d0d0d"/>
<ellipse cx="113.26" cy="582.53" rx="1.9" ry="2.2" fill="#0d0d0d"/>
<ellipse cx="112.02" cy="582.02" rx="1.9" ry="2.2" fill="#0d0d0d"/>
<ellipse cx="113.62" cy="582.02" rx="1.9" ry="2.2" fill="#0d0d0d"/>
<ellipse cx="112.38" cy="581.52" rx="1.9" ry="2.2" fill="#0d0d0d"/>
<ellipse cx="113.98" cy="581.52" rx="1.9" ry="2.2" fill="#0d0d0d"/>
<ellipse cx="112.74" cy="581.01" rx="1.9" ry="2.2" fill="#0d0d0d"/>
<ellipse cx="114.34" cy="581.01" rx="1.9" ry="2.2" fill="#0d0d0d"/>
<ellipse cx="113.1" cy="580.5" rx="1.9" ry="2.2" fill="#0d0d0d"/>
<ellipse cx="114.7" cy="580.5" rx="1.9" ry="2.2" fill="#0d0d0d"/>
<ellipse cx="206.4" cy="556.9" rx="1.9" ry="2.2" fill="#0d0d0d"/>
<ellipse cx="289.6" cy="556.1" rx="1.9" ry="2.2" fill="#0d0d0d"/>
<ellipse cx="225.7" cy="563.8" rx="1.9" ry="2.2" fill="#0d0d0d"/>
<ellipse cx="222.9" cy="567.3" rx="1.9" ry="2.2" fill="#0d0d0d"/>
<ellipse cx="234.6" cy="581.3" rx="1.9" ry="2.2" fill="#0d0d0d"/>
<ellipse cx="231.8" cy="583.8" rx="1.9" ry="2.2" fill="#0d0d0d"/>
<ellipse cx="270" cy="580.5" rx="1.9" ry="2.2" fill="#0d0d0d"/>
<ellipse cx="248.3" cy="590.1" rx="1.9" ry="2.2" fill="#0d0d0d"/>
<ellipse cx="249.9" cy="593" rx="1.9" ry="2.2" fill="#0d0d0d"/>
<ellipse cx="255" cy="592.7" rx="1.9" ry="2.2" fill="#0d0d0d"/>
<ellipse cx="258.3" cy="589.5" rx="1.9" ry="2.2" fill="#0d0d0d"/>
<ellipse cx="262.3" cy="589.5" rx="1.9" ry="2.2" fill="#0d0d0d"/>
<ellipse cx="256.6" cy="591.1" rx="1.9" ry="2.2" fill="#0d0d0d"/>
<path d="M428,151.4 L430,151 L440,150.8 L452,150.6 L464.5,150.7 L468.5,151.5 L470.5,152.5 L470.8,153.2 L468.5,154.2 L466,155.8 L463,157.5 L460.5,158.7 L456.6,158.5 L452.6,159.4 L448.3,158.5 L443.9,157.4 L438.6,156.6 L436,157.4 L432.5,155.7 L430.5,155.2 L428.5,153 Z" fill="#0d0d0d" stroke="#0d0d0d" stroke-width="3.8" stroke-linejoin="round"/>
<ellipse cx="409.7" cy="151.1" rx="1.9" ry="2.2" fill="#0d0d0d"/>
<ellipse cx="421.4" cy="151.9" rx="1.9" ry="2.2" fill="#0d0d0d"/>
<ellipse cx="440.4" cy="162" rx="1.9" ry="2.2" fill="#0d0d0d"/>
<ellipse cx="470.6" cy="159.8" rx="1.9" ry="2.2" fill="#0d0d0d"/>
<ellipse cx="475.8" cy="153.4" rx="1.9" ry="2.2" fill="#0d0d0d"/>
<ellipse cx="472.3" cy="151.4" rx="1.9" ry="2.2" fill="#0d0d0d"/>
<ellipse cx="469.6" cy="150.8" rx="1.9" ry="2.2" fill="#0d0d0d"/>
<ellipse cx="427.9" cy="150.3" rx="1.9" ry="2.2" fill="#0d0d0d"/>
<ellipse cx="427.9" cy="153" rx="1.9" ry="2.2" fill="#0d0d0d"/>
<ellipse cx="484.5" cy="155.4" rx="1.9" ry="2.2" fill="#0d0d0d"/>
<ellipse cx="485.9" cy="157.1" rx="1.9" ry="2.2" fill="#0d0d0d"/>
<ellipse cx="491.9" cy="151.9" rx="1.9" ry="2.2" fill="#0d0d0d"/>
<ellipse cx="508.1" cy="151.9" rx="1.9" ry="2.2" fill="#0d0d0d"/>
<ellipse cx="511.9" cy="151.9" rx="1.9" ry="2.2" fill="#0d0d0d"/>
<ellipse cx="634" cy="69.1" rx="1.9" ry="2.2" fill="#0d0d0d"/>
<ellipse cx="635.2" cy="69.1" rx="1.9" ry="2.2" fill="#0d0d0d"/>
<ellipse cx="652.3" cy="68.3" rx="1.9" ry="2.2" fill="#0d0d0d"/>
<ellipse cx="659.8" cy="74.1" rx="1.9" ry="2.2" fill="#0d0d0d"/>
<ellipse cx="650.6" cy="85.4" rx="1.9" ry="2.2" fill="#0d0d0d"/>
<ellipse cx="618.6" cy="93.5" rx="1.9" ry="2.2" fill="#0d0d0d"/>
<ellipse cx="643.2" cy="94" rx="1.9" ry="2.2" fill="#0d0d0d"/>
<ellipse cx="616.1" cy="99.8" rx="1.9" ry="2.2" fill="#0d0d0d"/>
<ellipse cx="638.2" cy="114.4" rx="1.9" ry="2.2" fill="#0d0d0d"/>
<ellipse cx="670.5" cy="114.8" rx="1.9" ry="2.2" fill="#0d0d0d"/>
<ellipse cx="633.2" cy="123.6" rx="1.9" ry="2.2" fill="#0d0d0d"/>
<ellipse cx="630.7" cy="128.5" rx="1.9" ry="2.2" fill="#0d0d0d"/>
<ellipse cx="610" cy="126.7" rx="1.9" ry="2.2" fill="#0d0d0d"/>
<ellipse cx="612.5" cy="153.3" rx="1.9" ry="2.2" fill="#0d0d0d"/>
<path d="M435.5,362.5 L440,362.1 L450,362.1 L459.3,362.2 L462.4,363.3 L466,362.8 L469,363.2 L469.2,366.2 L467.5,367.2 L465,366.8 L462.5,367.6 L461,370.8 L458.8,371 L456,368.2 L450.1,367.7 L447.2,369.5 L444,366.2 L438.4,366.2 L436.5,368.6 L434.8,368.6 L434.5,366.5 Z" fill="#0d0d0d" stroke="#0d0d0d" stroke-width="3.8" stroke-linejoin="round"/>
<ellipse cx="404.4" cy="364.6" rx="1.9" ry="2.2" fill="#0d0d0d"/>
<ellipse cx="418.5" cy="363.4" rx="1.9" ry="2.2" fill="#0d0d0d"/>
<ellipse cx="422" cy="370.7" rx="1.9" ry="2.2" fill="#0d0d0d"/>
<ellipse cx="426.1" cy="362.6" rx="1.9" ry="2.2" fill="#0d0d0d"/>
<ellipse cx="425.3" cy="366.1" rx="1.9" ry="2.2" fill="#0d0d0d"/>
<ellipse cx="427.2" cy="368.9" rx="1.9" ry="2.2" fill="#0d0d0d"/>
<ellipse cx="427.9" cy="364.8" rx="1.9" ry="2.2" fill="#0d0d0d"/>
<ellipse cx="431.4" cy="365.2" rx="1.9" ry="2.2" fill="#0d0d0d"/>
<ellipse cx="435.1" cy="375.7" rx="1.9" ry="2.2" fill="#0d0d0d"/>
<ellipse cx="439.9" cy="374" rx="1.9" ry="2.2" fill="#0d0d0d"/>
<ellipse cx="442.1" cy="372.2" rx="1.9" ry="2.2" fill="#0d0d0d"/>
<ellipse cx="447.2" cy="370.5" rx="1.9" ry="2.2" fill="#0d0d0d"/>
<ellipse cx="475.9" cy="364.5" rx="1.9" ry="2.2" fill="#0d0d0d"/>
<ellipse cx="484.3" cy="368.2" rx="1.9" ry="2.2" fill="#0d0d0d"/>
<ellipse cx="491.2" cy="363.6" rx="1.9" ry="2.2" fill="#0d0d0d"/>
<ellipse cx="519.6" cy="364.1" rx="1.9" ry="2.2" fill="#0d0d0d"/>
<ellipse cx="468.5" cy="361.5" rx="1.9" ry="2.2" fill="#0d0d0d"/>
<ellipse cx="433.1" cy="370" rx="1.9" ry="2.2" fill="#0d0d0d"/>
<ellipse cx="458.8" cy="372.9" rx="1.9" ry="2.2" fill="#0d0d0d"/>
<ellipse cx="447" cy="371.4" rx="1.9" ry="2.2" fill="#0d0d0d"/>
<ellipse cx="635.1" cy="285.6" rx="1.9" ry="2.2" fill="#0d0d0d"/>
<ellipse cx="612.2" cy="294.3" rx="1.9" ry="2.2" fill="#0d0d0d"/>
<ellipse cx="632.7" cy="297.5" rx="1.9" ry="2.2" fill="#0d0d0d"/>
<ellipse cx="643.1" cy="298.7" rx="1.9" ry="2.2" fill="#0d0d0d"/>
<ellipse cx="652.1" cy="303.4" rx="1.9" ry="2.2" fill="#0d0d0d"/>
<ellipse cx="638.6" cy="312.2" rx="1.9" ry="2.2" fill="#0d0d0d"/>
<ellipse cx="617.4" cy="316.6" rx="1.9" ry="2.2" fill="#0d0d0d"/>
<ellipse cx="670.4" cy="322.7" rx="1.9" ry="2.2" fill="#0d0d0d"/>
<ellipse cx="633" cy="326" rx="1.9" ry="2.2" fill="#0d0d0d"/>
<ellipse cx="637.9" cy="328.2" rx="1.9" ry="2.2" fill="#0d0d0d"/>
<ellipse cx="657" cy="326.5" rx="1.9" ry="2.2" fill="#0d0d0d"/>
<ellipse cx="617.9" cy="354" rx="1.9" ry="2.2" fill="#0d0d0d"/>
<ellipse cx="653.5" cy="360.4" rx="1.9" ry="2.2" fill="#0d0d0d"/>
<ellipse cx="612.7" cy="363.9" rx="1.9" ry="2.2" fill="#0d0d0d"/>
<path d="M433.5,577.2 L436,576.3 L440,576.1 L452.6,576.1 L454.7,577.4 L457.9,576.4 L462.1,576.2 L464.5,578.3 L465.7,580.2 L465.9,581.6 L463.5,582 L461.5,584.3 L459.8,584.2 L457.3,580.2 L454.2,581.4 L450.5,581.2 L446.3,582 L442.1,583.5 L437.5,582.8 L434,581 L433,579 Z" fill="#0d0d0d" stroke="#0d0d0d" stroke-width="3.8" stroke-linejoin="round"/>
<ellipse cx="421.5" cy="576.6" rx="1.9" ry="2.2" fill="#0d0d0d"/>
<ellipse cx="422.5" cy="581.1" rx="1.9" ry="2.2" fill="#0d0d0d"/>
<ellipse cx="420.9" cy="578.2" rx="1.9" ry="2.2" fill="#0d0d0d"/>
<ellipse cx="425.8" cy="575.4" rx="1.9" ry="2.2" fill="#0d0d0d"/>
<ellipse cx="427.4" cy="578.6" rx="1.9" ry="2.2" fill="#0d0d0d"/>
<ellipse cx="430.3" cy="577.4" rx="1.9" ry="2.2" fill="#0d0d0d"/>
<ellipse cx="431.1" cy="581.5" rx="1.9" ry="2.2" fill="#0d0d0d"/>
<ellipse cx="433.1" cy="575" rx="1.9" ry="2.2" fill="#0d0d0d"/>
<ellipse cx="472.9" cy="577.8" rx="1.9" ry="2.2" fill="#0d0d0d"/>
<ellipse cx="484.8" cy="586.3" rx="1.9" ry="2.2" fill="#0d0d0d"/>
<ellipse cx="493.3" cy="582.2" rx="1.9" ry="2.2" fill="#0d0d0d"/>
<ellipse cx="499.4" cy="577.3" rx="1.9" ry="2.2" fill="#0d0d0d"/>
<ellipse cx="529.1" cy="577.3" rx="1.9" ry="2.2" fill="#0d0d0d"/>
<ellipse cx="461" cy="584.2" rx="1.9" ry="2.2" fill="#0d0d0d"/>
<ellipse cx="466.3" cy="580.6" rx="1.9" ry="2.2" fill="#0d0d0d"/>
<ellipse cx="462.3" cy="576.1" rx="1.9" ry="2.2" fill="#0d0d0d"/>
<ellipse cx="442.1" cy="583.3" rx="1.9" ry="2.2" fill="#0d0d0d"/>
<ellipse cx="429" cy="576.3" rx="1.9" ry="2.2" fill="#0d0d0d"/>
<ellipse cx="428.8" cy="579.8" rx="1.9" ry="2.2" fill="#0d0d0d"/>
<ellipse cx="432" cy="579" rx="1.9" ry="2.2" fill="#0d0d0d"/>
<ellipse cx="424" cy="577" rx="1.9" ry="2.2" fill="#0d0d0d"/>
<ellipse cx="424.5" cy="579.8" rx="1.9" ry="2.2" fill="#0d0d0d"/>
<ellipse cx="436.4" cy="584.2" rx="1.9" ry="2.2" fill="#0d0d0d"/>
<ellipse cx="634.3" cy="484" rx="1.9" ry="2.2" fill="#0d0d0d"/>
<ellipse cx="636.5" cy="492.6" rx="1.9" ry="2.2" fill="#0d0d0d"/>
<ellipse cx="652.4" cy="494" rx="1.9" ry="2.2" fill="#0d0d0d"/>
<ellipse cx="660.2" cy="514.5" rx="1.9" ry="2.2" fill="#0d0d0d"/>
<ellipse cx="644.1" cy="516" rx="1.9" ry="2.2" fill="#0d0d0d"/>
<ellipse cx="613.3" cy="521.9" rx="1.9" ry="2.2" fill="#0d0d0d"/>
<ellipse cx="619.7" cy="528.1" rx="1.9" ry="2.2" fill="#0d0d0d"/>
<ellipse cx="618.1" cy="530.2" rx="1.9" ry="2.2" fill="#0d0d0d"/>
<ellipse cx="650.3" cy="531.6" rx="1.9" ry="2.2" fill="#0d0d0d"/>
<ellipse cx="638.6" cy="534.3" rx="1.9" ry="2.2" fill="#0d0d0d"/>
<ellipse cx="634.9" cy="535.7" rx="1.9" ry="2.2" fill="#0d0d0d"/>
<ellipse cx="634.9" cy="560.7" rx="1.9" ry="2.2" fill="#0d0d0d"/>
<ellipse cx="670.8" cy="562" rx="1.9" ry="2.2" fill="#0d0d0d"/>
<ellipse cx="612.7" cy="581.9" rx="1.9" ry="2.2" fill="#0d0d0d"/>
</g>
</svg>
</body></html>
